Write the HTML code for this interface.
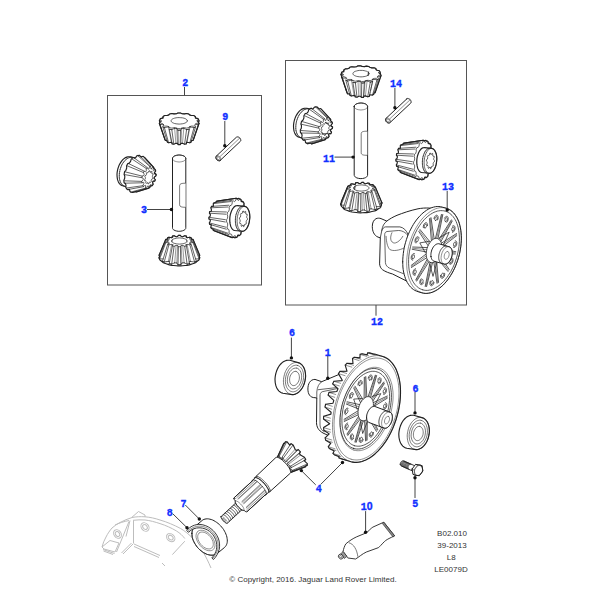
<!DOCTYPE html>
<html><head><meta charset="utf-8">
<style>
html,body{margin:0;padding:0;background:#fff;width:600px;height:600px;overflow:hidden}
svg{display:block}
.lb{font-family:"Liberation Mono",monospace;font-weight:bold;font-size:10px;fill:#1030ff;stroke:#1030ff;stroke-width:0.35px;text-anchor:middle}
.tx{font-family:"Liberation Sans",sans-serif;font-size:8px;fill:#333;text-anchor:middle}
.bx{fill:none;stroke:#555;stroke-width:1}
.ld{stroke:#444;stroke-width:1;fill:none}
.dt{fill:#111}
.g{fill:none;stroke:#bdbdbd;stroke-width:1;stroke-linejoin:round}
.f{fill:#fff}
.l{fill:none;stroke:#222;stroke-linecap:round;stroke-linejoin:round}
</style></head><body>
<svg width="600" height="600" viewBox="0 0 600 600">
<rect class="bx" x="107.5" y="95.5" width="154" height="189.5"/>
<rect class="bx" x="285.5" y="60.5" width="181" height="244.5"/>
<path class="f" d="M159.4 123.5L165 139.8L165.4 140.5L166.9 140.6L167.4 142.2L168.6 142.8L171.4 142.3L171.8 142.4L172.1 143.9L173.8 144.2L175.9 143.3L177.4 143.4L178.2 144.6L180.2 144.6L181 143.4L182.5 143.3L184.6 144.2L186.3 143.9L186.6 142.4L187 142.3L189.8 142.8L191 142.2L191.5 140.6L193 140.5L193.4 139.8L199 123.5L198.6 122.1L199 120.9L198.6 119.6L198 118.6L195.9 118.1L195.6 117.9L195.6 117.6L195.3 116.4L193.7 115.5L191.3 115.5L189.5 114.9L188.9 114L186.5 113.5L184.4 113.9L182 113.7L180.5 113L177.9 113L176.4 113.7L174 113.9L171.9 113.5L169.5 114L168.9 114.9L167.1 115.5L164.7 115.5L163.1 116.4L162.8 117.6L162.8 117.9L162.5 118.1L160.4 118.6L160 119.3L159.8 119.6L159.4 120.9L159.8 122.1L159.4 123.5Z"/>
<path class="l" stroke-width="0.7" d="M197.4 121.3L199 120.9M195.3 117.8L195.6 117.6M162.8 117.6L163.1 117.8M159.4 120.9L161.3 121.4M159.4 123.5L159.6 123.8M159.6 123.8L159.8 124.2M159.8 124.2L160 124.5M160 124.5L163.6 124.6M162.8 126.8L163.3 127M163.3 127L163.8 127.3M163.8 127.3L164.4 127.6M164.4 127.6L168.4 126.9M168.4 126.9L169.3 127.2M169.3 129.2L170.1 129.3M170.1 129.3L170.9 129.5M170.9 129.5L171.8 129.6M171.8 129.6L174.6 128.3M174.6 128.3L176.7 128.5M176.7 128.5L177.9 130.2M177.9 130.2L178.8 130.2M178.8 130.2L179.6 130.2M179.6 130.2L180.5 130.2M180.5 130.2L181.7 128.5M181.7 128.5L183.8 128.3M183.8 128.3L186.6 129.6M186.6 129.6L187.5 129.5M187.5 129.5L188.3 129.3M188.3 129.3L189.1 129.2M189.2 127.2L190 126.9M190 126.9L190.6 127M190.9 127.1L194 127.6M194 127.6L194.6 127.3M194.6 127.3L195.1 127M195.1 127L195.6 126.8M195.8 124.5L198.4 124.5M198.4 124.5L198.6 124.2M198.6 124.2L198.8 123.8M198.8 123.8L199 123.5M199 120.9L198.5 122.3M195.6 117.6L195.5 118M162.8 117.6L162.9 118M159.4 120.9L159.9 122.3M159.4 123.5L165 139.8M160 124.5L165.4 140.5M162.8 126.8L167.4 142.2M164.4 127.6L168.6 142.8M169.3 129.2L172.1 143.9M171.8 129.6L173.8 144.2M177.9 130.2L178.2 144.6M180.5 130.2L180.2 144.6M186.6 129.6L184.6 144.2M189.1 129.2L186.3 143.9M194 127.6L189.8 142.8M195.6 126.8L191 142.2M198.4 124.5L193 140.5M199 123.5L193.4 139.8M197.2 120.3L198.6 119.6L198 118.6L195.9 118.1L194.9 117.3L195.3 116.4L193.7 115.5L191.3 115.5L189.5 114.9L188.9 114L186.5 113.5L184.4 113.9L182 113.7L180.5 113L177.9 113L176.4 113.7L174 113.9L171.9 113.5L170.3 113.8L169.5 114L168.9 114.9L168.4 115.1L167.1 115.5L164.7 115.5L164.2 115.8L163.1 116.4L163.5 117.3L162.5 118.1L160.4 118.6L160.2 118.9L159.8 119.6L161.2 120.3L161.2 121.3L159.8 122.1L160.4 123.1L162.5 123.5L163.1 124L163.5 124.4L163.1 125.3L164.7 126.1L167.1 126.1L168.9 126.7L169.5 127.6L171.9 128.1L174 127.7L176.4 127.9L177.9 128.6L180.5 128.6L182 127.9L184.4 127.7L186.5 128.1L188.1 127.8L188.9 127.6L189.5 126.7L189.6 126.7L191.3 126.1L193.7 126.1L194.2 125.8L195.3 125.3L194.9 124.4L195 124.3L195.9 123.5L198 123.1L198.4 122.4L198.6 122.1L197.2 121.3L197.2 120.3M187.3 120.8L187.2 120.4L187.1 120.1L186.7 119.6L185.8 118.9L184.9 118.5L184 118.2L182.3 117.8L180.8 117.7L179.2 117.6L177.8 117.6L176.1 117.8L174.4 118.2L173.5 118.5L172.6 118.9L171.7 119.6L171.3 120.1L171.2 120.4L171.1 120.8L171.2 121.2L171.3 121.5L171.7 122.1L172.6 122.7L173.5 123.1L174.6 123.5L176.1 123.8L178 124L179.2 124.1L180.4 124L182.3 123.8L183.8 123.5L184.9 123.1L185.9 122.6L186.7 122.1L187.1 121.5L187.2 121.2L187.3 120.8"/>
<path class="l" stroke-width="0.45" d="M168.4 126.9L171.4 142.3M174.6 128.3L175.9 143.3M176.7 128.5L177.4 143.4M181.7 128.5L181 143.4M183.8 128.3L182.5 143.3M190 126.9L187 142.3"/>
<path class="l" stroke-width="1.15" d="M159.4 123.5L165 139.8L165.4 140.5L166.9 140.6L167.4 142.2L168.6 142.8L171.4 142.3L171.8 142.4L172.1 143.9L173.8 144.2L175.9 143.3L177.4 143.4L178.2 144.6L180.2 144.6L181 143.4L182.5 143.3L184.6 144.2L186.3 143.9L186.6 142.4L187 142.3L189.8 142.8L191 142.2L191.5 140.6L193 140.5L193.4 139.8L199 123.5L198.6 122.1L199 120.9L198.6 119.6L198 118.6L195.9 118.1L195.6 117.9L195.6 117.6L195.3 116.4L193.7 115.5L191.3 115.5L189.5 114.9L188.9 114L186.5 113.5L184.4 113.9L182 113.7L180.5 113L177.9 113L176.4 113.7L174 113.9L171.9 113.5L169.5 114L168.9 114.9L167.1 115.5L164.7 115.5L163.1 116.4L162.8 117.6L162.8 117.9L162.5 118.1L160.4 118.6L160 119.3L159.8 119.6L159.4 120.9L159.8 122.1L159.4 123.5Z"/>
<path class="f" d="M159.1 255.2L159.5 256.7L159.1 257.8L159.5 259.1L159.6 259.5L160.1 260.2L161 260.8L162.2 261.8L162.6 261.6L162.8 262.5L164.5 263.3L166.1 263.7L168.1 264.4L169.4 264.9L171.9 265.4L173.7 265.5L176.3 265.7L178 265.9L180.8 265.9L182.5 265.7L185.1 265.5L186.9 265.4L189.4 264.9L190.7 264.4L192.7 263.7L194.3 263.3L196 262.5L196.2 261.6L196.6 261.8L197.8 260.8L198.7 260.2L199.3 259.1L199.7 257.8L199.3 256.7L199.7 255.2L193.4 240.1L193 239.4L191.7 239.3L191.1 237.8L189.9 237.2L187.1 237.7L186.8 237.6L186.4 236.1L184.7 235.7L182.7 236.7L181.2 236.5L180.4 235.3L178.4 235.3L177.6 236.5L176.1 236.7L174.1 235.7L172.4 236.1L172 237.6L171.7 237.7L168.9 237.2L167.7 237.8L167.1 239.3L165.8 239.4L165.4 240.1L159.1 255.2Z"/>
<path class="l" stroke-width="0.7" d="M160 255.4L159.1 255.2M199.7 255.2L198.8 255.4M199.7 257.8L199.6 258.2M199.6 258.2L199.4 258.5M199.4 258.5L199.1 258.9M199.1 258.9L195.7 258.9M196.3 261.2L195.8 261.5M195.8 261.5L195.2 261.8M195.2 261.8L194.6 262.1M194.6 262.1L190.5 261.4M190.5 261.4L189.1 261.8M189.3 263.1L189.6 263.7M189.6 263.7L188.8 263.8M188.8 263.8L187.9 264M187.9 264L187.1 264.1M187.1 264.1L184.1 262.8M184.1 262.8L182 263M182 263L181.4 263.8M181.2 264.1L180.8 264.7M180.8 264.7L179.9 264.7M179.9 264.7L178.9 264.7M178.9 264.7L178 264.7M178 264.7L176.8 263M176.8 263L174.7 262.8M174.7 262.8L171.7 264.1M171.7 264.1L170.9 264M170.9 264L170 263.8M170 263.8L169.2 263.7M169.5 261.8L168.3 261.4M168.3 261.4L167.1 261.6M166.7 261.6L166.1 261.7M165.8 261.8L164.2 262.1M164.2 262.1L163.6 261.8M163.6 261.8L163 261.5M163 261.5L162.5 261.2M163.1 258.9L159.7 258.9M159.7 258.9L159.4 258.5M159.4 258.5L159.2 258.2M159.2 258.2L159.1 257.8M159.1 255.2L165.4 240.1M167.2 239.3L167.7 237.8M172 237.6L172.4 236.1M186.8 237.6L186.4 236.1M191.6 239.3L191.1 237.8M199.7 255.2L193.4 240.1M199.7 257.8L193.4 241.9M199.1 258.9L193 242.6M196.3 261.2L191.1 244.2M194.6 262.1L189.9 244.8M189.6 263.7L186.4 246M187.1 264.1L184.7 246.3M180.8 264.7L180.4 246.7M178 264.7L178.4 246.7M171.7 264.1L174.1 246.3M169.2 263.7L172.4 246M164.2 262.1L168.9 244.8M162.5 261.2L167.7 244.2M159.7 258.9L165.8 242.6M159.1 257.8L165.4 241.9M168.1 240.7L165.4 240.1L165.8 239.4L168.8 239.3L169.5 238.8L167.7 237.8L168.9 237.2L171.7 237.7L172.9 237.3L172.4 236.1L174.1 235.7L176.1 236.7L176.9 236.6L177.6 236.5L178.4 235.3L180.4 235.3L181.2 236.5L182.7 236.7L184.7 235.7L186.4 236.1L185.9 237.3L187.1 237.7L189.9 237.2L190.3 237.4L191.1 237.8L189.3 238.8L190 239.3L193 239.4L193.4 240.1L190.7 240.7L190.7 241.3L193.4 241.9L193 242.6L190 242.7L189.3 243.3L191.1 244.2L189.9 244.8L187.1 244.4L185.9 244.7L186.4 246L184.7 246.3L182.7 245.4L181.9 245.4L181.2 245.5L180.4 246.7L178.4 246.7L177.6 245.5L176.1 245.4L174.1 246.3L172.4 246L172.9 244.7L172.6 244.6L171.7 244.4L168.9 244.8L167.7 244.2L169.5 243.3L168.8 242.7L165.8 242.6L165.4 241.9L168.1 241.3L168.1 240.7M171.7 241L171.8 240.6L171.9 240.3L172.3 239.8L173.3 239.1L174 238.8L174.7 238.6L176.5 238.2L177.8 238L179.4 237.9L181 238L182.3 238.2L184.1 238.6L184.8 238.8L185.5 239.1L186.5 239.8L186.9 240.3L187 240.6L187.1 241L187 241.4L186.9 241.7L186.5 242.2L185.5 242.9L184.8 243.2L183.9 243.5L182.3 243.8L181 244L179.4 244.1L177.8 244L176.5 243.8L174.9 243.5L174 243.2L173.3 242.9L172.3 242.2L171.9 241.7L171.8 241.4L171.7 241"/>
<path class="l" stroke-width="0.45" d="M167.9 241.3L168.1 240.7M169.4 239.1L169.5 238.8M171.9 241.9L172.4 239.6M186.9 242.1L186.4 239.6M190.9 241.3L190.7 240.7M190.3 244L190 242.7M190.5 261.4L187.1 244.4M186 245.3L185.9 244.7M184.1 262.8L182.7 245.4M182 263L181.2 245.5M176.8 263L177.6 245.5M174.7 262.8L176.1 245.4M172.8 245.3L172.9 244.7M168.3 261.4L171.7 244.4M168.5 244L168.8 242.7"/>
<path class="l" stroke-width="1.15" d="M159.1 255.2L159.5 256.7L159.1 257.8L159.5 259.1L159.6 259.5L160.1 260.2L161 260.8L162.2 261.8L162.6 261.6L162.8 262.5L164.5 263.3L166.1 263.7L168.1 264.4L169.4 264.9L171.9 265.4L173.7 265.5L176.3 265.7L178 265.9L180.8 265.9L182.5 265.7L185.1 265.5L186.9 265.4L189.4 264.9L190.7 264.4L192.7 263.7L194.3 263.3L196 262.5L196.2 261.6L196.6 261.8L197.8 260.8L198.7 260.2L199.3 259.1L199.7 257.8L199.3 256.7L199.7 255.2L193.4 240.1L193 239.4L191.7 239.3L191.1 237.8L189.9 237.2L187.1 237.7L186.8 237.6L186.4 236.1L184.7 235.7L182.7 236.7L181.2 236.5L180.4 235.3L178.4 235.3L177.6 236.5L176.1 236.7L174.1 235.7L172.4 236.1L172 237.6L171.7 237.7L168.9 237.2L167.7 237.8L167.1 239.3L165.8 239.4L165.4 240.1L159.1 255.2Z"/>
<path class="f" d="M117.3 178.3L117.6 179.9L118.2 181.4L118.8 182.7L119.6 183.8L120.5 184.7L121.5 185.4L122.7 185.8L132.1 188.3L131 187.9L130 187.3L129 186.3L128.3 185.2L127.6 183.9L127.1 182.5L126.7 180.8L126.5 179.1L126.4 177.2L126.6 175.4L126.8 173.4L127.3 171.5L127.8 169.7L128.6 167.9L129.4 166.2L130.4 164.6L131.4 163.2L132.6 162L133.7 160.9L135 160.1L136.2 159.6L137.5 159.3L138.7 159.2L139.8 159.4L130.4 156.8L129.2 156.7L128 156.7L126.8 157.1L125.5 157.6L124.3 158.4L123.1 159.4L122 160.7L120.9 162.1L120 163.6L119.1 165.3L118.4 167.1L117.8 169L117.4 170.9L117.1 172.8L117 174.7L117.1 176.6L117.3 178.3Z"/>
<path class="l" stroke-width="0.7" d="M124.9 186.4L123.8 186M123.8 186L122.8 185.3M122.8 185.3L121.9 184.4M121.9 184.4L121.1 183.3M121.1 183.3L120.4 182M120.4 182L119.9 180.5M119.9 180.5L119.5 178.9M119.5 178.9L119.3 177.2M119.3 177.2L119.3 175.3M119.3 175.3L119.4 173.4M119.4 173.4L119.7 171.5M119.7 171.5L120.1 169.6M120.1 169.6L120.7 167.7M120.7 167.7L121.4 165.9M121.4 165.9L122.2 164.2M122.2 164.2L123.2 162.7M123.2 162.7L124.3 161.3M124.3 161.3L125.4 160M125.4 160L126.6 159M126.6 159L127.8 158.2M127.8 158.2L129.1 157.7M129.1 157.7L130.3 157.3M130.3 157.3L131.5 157.3M131.5 157.3L132.7 157.4"/>
<path class="l" stroke-width="1.15" d="M117.3 178.3L117.6 179.9L118.2 181.4L118.8 182.7L119.6 183.8L120.5 184.7L121.5 185.4L122.7 185.8L132.1 188.3L131 187.9L130 187.3L129 186.3L128.3 185.2L127.6 183.9L127.1 182.5L126.7 180.8L126.5 179.1L126.4 177.2L126.6 175.4L126.8 173.4L127.3 171.5L127.8 169.7L128.6 167.9L129.4 166.2L130.4 164.6L131.4 163.2L132.6 162L133.7 160.9L135 160.1L136.2 159.6L137.5 159.3L138.7 159.2L139.8 159.4L130.4 156.8L129.2 156.7L128 156.7L126.8 157.1L125.5 157.6L124.3 158.4L123.1 159.4L122 160.7L120.9 162.1L120 163.6L119.1 165.3L118.4 167.1L117.8 169L117.4 170.9L117.1 172.8L117 174.7L117.1 176.6L117.3 178.3Z"/><path class="f" d="M123.8 180.4L124.1 182.8L124.8 183.2L125 183.2L125.4 183.4L126 185.3L125.8 187.5L126.8 189.1L127.6 189.6L129.2 189.4L129.5 189.6L130 191.5L130.8 192.1L131.3 192.3L132.4 192.5L135.7 191.6L136.4 192L148.8 188.1L149.8 187.6L150 186.1L152.2 185.6L153.1 184.4L152.6 182.2L153.2 181.1L154.8 181.2L155.3 179.6L154.1 178.3L154.4 177L156 175.9L156.1 174.3L154.3 173L155.7 170.9L155.5 170.5L155.2 169.6L153.6 167.9L153.7 167.4L144.6 157.5L144.1 157.1L143.2 156.4L142.1 156.5L141.2 157.1L139.5 155.4L137.9 155.6L136.8 155.8L135.7 157.6L134.4 158.1L133.7 157.6L132.8 157.7L131.8 158.6L131.2 159.1L130.6 161.3L129.3 163.1L127.8 163.6L127.4 164.3L126.6 165.8L126.7 168L125.9 170.3L124.6 171.7L124.4 172.6L124.1 174.4L124.8 175.9L124.7 178.3L123.8 180.4Z"/>
<path class="l" stroke-width="0.7" d="M143.2 156.4L152.9 166.8M144.6 157.5L153.7 167.4M153.4 167.8L155.2 169.6M154.3 173L156.1 174.3M150 186.1L152.2 185.6M136.4 192L148.8 188.1M132.4 192.5L146.4 188.4M130.8 192.1L145.4 188.2M127.6 189.6L143.5 186.7M126.5 188L142.9 185.7M124.8 183.2L141.9 182.8M124.5 180.8L141.7 181.4M124.7 174.6L141.8 177.7M125.3 171.9L142.1 176.1M127.4 165.9L143.4 172.5M128.6 163.6L144.1 171.1M132.1 159.1L146.2 168.4M133.7 157.6L147.2 167.5M137.8 155.6L149.6 166.3M139.5 155.4L150.7 166.2M151.5 168.8L152.9 166.8L153.7 167.4L153 170L153.5 170.7L155.2 169.6L155.4 170L155.7 170.9L154.3 173L154.5 174.1L156.1 174.3L156 175.9L154.4 177L154.1 178.3L155.3 179.6L154.8 181.2L153.1 181.1L152.7 181.9L152.6 182.2L153.1 184.4L152.2 185.6L150.9 184.3L150.2 185L149.8 187.6L148.8 188.1L148.3 185.9L147.5 186L146.4 188.4L145.8 188.3L145.4 188.2L145.7 185.5L145.1 185.1L143.5 186.7L142.9 185.7L143.9 183.3L143.6 182.3L141.9 182.8L141.7 181.4L143.2 179.7L143.3 178.6L143.3 178.4L141.8 177.7L142.1 176.1L143.8 175.5L144.2 174.3L143.4 172.5L144.1 171.1L145.6 171.8L146.3 170.9L146.2 168.4L147.2 167.5L148.1 169.3L148.9 168.9L149.6 166.3L150.7 166.2L150.8 168.6L151.5 168.8M150.7 172.1L151.5 171.1L152 171.7L151.7 173.1L152.1 173.9L153 173.8L153.1 174.8L152.4 175.9L152.4 176.4L152.3 177.1L152.9 177.8L152.6 178.9L151.7 179.2L151.2 180.3L151.3 181.6L150.7 182.4L150 181.9L149.2 182.4L148.8 183.8L148.2 183.9L148 184L147.8 182.8L147.1 182.6L146.3 183.5L145.7 182.9L146 181.6L145.6 180.7L144.7 180.8L144.6 180L144.6 179.8L145.3 178.8L145.4 177.5L144.8 176.8L145.1 175.7L146 175.4L146.5 174.3L146.4 173L146.7 172.6L147 172.2L147.7 172.8L148.5 172.2L148.9 170.9L149.7 170.7L149.9 171.9L150.7 172.1"/>
<path class="l" stroke-width="1.15" d="M123.8 180.4L124.1 182.8L124.8 183.2L125 183.2L125.4 183.4L126 185.3L125.8 187.5L126.8 189.1L127.6 189.6L129.2 189.4L129.5 189.6L130 191.5L130.8 192.1L131.3 192.3L132.4 192.5L135.7 191.6L136.4 192L148.8 188.1L149.8 187.6L150 186.1L152.2 185.6L153.1 184.4L152.6 182.2L153.2 181.1L154.8 181.2L155.3 179.6L154.1 178.3L154.4 177L156 175.9L156.1 174.3L154.3 173L155.7 170.9L155.5 170.5L155.2 169.6L153.6 167.9L153.7 167.4L144.6 157.5L144.1 157.1L143.2 156.4L142.1 156.5L141.2 157.1L139.5 155.4L137.9 155.6L136.8 155.8L135.7 157.6L134.4 158.1L133.7 157.6L132.8 157.7L131.8 158.6L131.2 159.1L130.6 161.3L129.3 163.1L127.8 163.6L127.4 164.3L126.6 165.8L126.7 168L125.9 170.3L124.6 171.7L124.4 172.6L124.1 174.4L124.8 175.9L124.7 178.3L123.8 180.4Z"/>
<path class="f" d="M208.9 217.3L208.9 219L210.2 219.5L210.3 220.9L209.3 222.9L209.7 224.4L211.4 224.9L210.8 227.4L211.4 228.5L213.2 229.1L213.2 230.2L214 230.7L232.1 237.6L233.2 237.3L234.8 237.8L236.6 237.4L237 237.2L237.7 235.4L238.7 235.7L239.7 235.4L240.8 234.3L241.1 232.1L241.9 230.8L242.2 230.8L243.1 230.7L243.9 228.8L243.8 226.8L244.4 224.9L245.4 224L245.9 221.8L245.4 220.1L245.6 218L246.5 216.5L246.5 215.7L246.5 214.2L245.6 213.1L245.4 211.1L246 209.1L245.5 207.2L244.7 206.8L244.4 206.8L243.9 205.4L244 203.2L243.2 201.8L242.3 201.4L241.3 201.5L241 199.5L238.9 198.4L237.3 198.7L236.2 198.2L217.1 201.1L216.5 201.3L216.2 201.4L216 202.5L214.1 202.7L213.3 203.6L213.4 206.2L211.6 206.4L211.1 207.3L210.9 207.8L211.5 210L211.1 211.3L209.7 211.5L209.4 213.2L210.4 214.6L210.2 216.1L208.9 217.3Z"/>
<path class="l" stroke-width="0.7" d="M234.8 237.8L233.1 237.2M238.7 235.7L237.6 235.3M242.2 230.8L241.8 230.7M237.7 229.7L232 228.3M244.7 206.8L244.3 206.8M240.5 207L234.2 207.2M242.3 201.4L241.3 201.5M238.9 198.4L237 198.7M236.2 198.2L217.1 201.1M235 198.5L216.2 201.4M232.3 200.3L214.1 202.7M231.2 201.5L213.3 203.6M228.8 205.2L211.6 206.4M228 207L210.9 207.8M226.4 212L209.7 211.5M225.9 214.2L209.4 213.2M225.4 219.7L208.9 217.3M225.3 222L208.9 219M225.9 227.2L209.3 222.9M226.3 229.2L209.7 224.4M227.8 233.2L210.8 227.4M228.7 234.6L211.4 228.5M231 237L213.2 230.2M232.1 237.6L214 230.7M235.2 236L235.8 237.6L237 237.2L237.7 235.3L238.7 234.6L239.7 235.4L240.8 234.3L241.1 232.1L242 230.7L243.1 230.7L243.9 228.8L243.8 226.8L244.4 224.9L245.4 224L245.9 221.8L245.4 220.1L245.6 218L246.5 216.5L246.5 214.2L245.6 213.1L245.4 211.1L246 209.1L245.5 207.2L244.5 206.9L243.9 205.4L244 203.2L243.2 201.8L242.1 202.4L241.2 201.5L241 199.5L239.9 198.9L238.9 200.3L237.9 200.2L237.2 198.7L236.1 199L235.4 200.9L234.3 201.6L233.4 200.8L232.3 201.9L232 204.1L231.1 205.5L230 205.5L229.2 207.4L229.3 209.4L228.7 211.4L227.6 212.2L227.2 214.4L227.7 216.1L227.5 218.2L226.6 219.8L226.6 222L227.5 223.1L227.7 225.1L227.1 227.1L227.5 229.1L228.6 229.3L229.2 230.9L229 233L229.8 234.4L230.9 233.8L231.8 234.7L232.1 236.7L232.8 237.1L233.2 237.3L234.1 235.9L235.2 236M235.2 230.5L236 230.5L236.5 230.4L236.9 230.3L237.7 229.8L238.5 229.2L239.3 228.4L240 227.4L240.7 226.2L241.2 225.1L241.8 223.5L242.4 221.1L242.7 218.8L242.9 217L242.9 215.5L242.8 214L242.6 212.5L242.3 211.2L241.9 209.8L241.4 208.6L240.9 207.8L240.1 206.9L239.4 206.3L239.1 206.1L238.6 205.9L237.8 205.7L237 205.7L236.5 205.8L236.2 205.9L235.4 206.4L234.6 207L234.2 207.4L233.1 208.9L232.4 210L231.8 211.3L231.3 212.7L230.9 214.3L230.5 215.8L230.3 217.5L230.2 219.3L230.2 220.7L230.3 222.3L230.5 223.8L230.7 224.8L231.2 226.4L231.7 227.6L232.2 228.4L232.9 229.3L233.7 229.9L234 230.1L234.4 230.3L235.2 230.5"/>
<path class="l" stroke-width="1.15" d="M208.9 217.3L208.9 219L210.2 219.5L210.3 220.9L209.3 222.9L209.7 224.4L211.4 224.9L210.8 227.4L211.4 228.5L213.2 229.1L213.2 230.2L214 230.7L232.1 237.6L233.2 237.3L234.8 237.8L236.6 237.4L237 237.2L237.7 235.4L238.7 235.7L239.7 235.4L240.8 234.3L241.1 232.1L241.9 230.8L242.2 230.8L243.1 230.7L243.9 228.8L243.8 226.8L244.4 224.9L245.4 224L245.9 221.8L245.4 220.1L245.6 218L246.5 216.5L246.5 215.7L246.5 214.2L245.6 213.1L245.4 211.1L246 209.1L245.5 207.2L244.7 206.8L244.4 206.8L243.9 205.4L244 203.2L243.2 201.8L242.3 201.4L241.3 201.5L241 199.5L238.9 198.4L237.3 198.7L236.2 198.2L217.1 201.1L216.5 201.3L216.2 201.4L216 202.5L214.1 202.7L213.3 203.6L213.4 206.2L211.6 206.4L211.1 207.3L210.9 207.8L211.5 210L211.1 211.3L209.7 211.5L209.4 213.2L210.4 214.6L210.2 216.1L208.9 217.3Z"/><path class="f" d="M230.8 226.4L231.3 227.5L231.9 228.5L232.5 229.3L233.2 229.9L234 230.3L234.8 230.5L242.1 231.3L242.9 231.2L243.8 231L244.6 230.6L245.4 229.9L246.2 229.1L246.9 228.1L247.6 226.9L248.2 225.6L248.7 224.2L249.1 222.7L249.4 221.1L249.6 219.5L249.8 217.9L249.8 216.2L249.7 214.7L249.5 213.2L249.2 211.8L248.7 210.5L248.2 209.4L247.7 208.4L247 207.6L246.3 207L245.5 206.6L244.7 206.4L237.4 205.6L236.6 205.7L235.8 205.9L234.9 206.3L234.1 207L233.4 207.8L232.6 208.8L232 210L231.4 211.3L230.9 212.7L230.4 214.2L230.1 215.8L229.9 217.4L229.8 219L229.8 220.6L229.9 222.2L230.1 223.7L230.4 225.1L230.8 226.4Z"/>
<path class="l" stroke-width="0.7" d="M243 206.2L242.2 206.2M242.2 206.2L241.4 206.5M241.4 206.5L240.5 206.9M240.5 206.9L239.7 207.6M239.7 207.6L239 208.4M239 208.4L238.2 209.4M238.2 209.4L237.6 210.6M237.6 210.6L237 211.9M237 211.9L236.5 213.3M236.5 213.3L236 214.8M236 214.8L235.7 216.4M235.7 216.4L235.5 218M235.5 218L235.4 219.6M235.4 219.6L235.4 221.2M235.4 221.2L235.5 222.8M235.5 222.8L235.7 224.3M235.7 224.3L236 225.7M236 225.7L236.4 227M236.4 227L236.9 228.1M236.9 228.1L237.5 229.1M237.5 229.1L238.1 229.9M238.1 229.9L238.8 230.5M238.8 230.5L239.6 230.9M239.6 230.9L240.4 231.1M242.1 231.3L242.9 231.2L243.4 231.1L243.8 231L244.6 230.6L245.4 229.9L246.2 229.1L246.9 228.1L247.6 226.9L248 225.9L248.7 224.2L249.3 221.8L249.6 219.5L249.8 217.9L249.8 216.2L249.7 214.7L249.5 213.2L249.2 212L248.7 210.5L248.2 209.4L247.8 208.6L247 207.6L246.3 207L245.5 206.6L244.7 206.4L243.9 206.4L243.4 206.6L243.1 206.7L242.3 207.1L241.2 208L240.7 208.6L240 209.6L239 211.4L238.2 213.5L237.8 215L237.5 216.4L237.2 218.2L237.1 220L237.1 221.4L237.2 223L237.5 224.8L237.7 225.9L238.1 227.2L238.6 228.3L239.1 229.1L239.8 230.1L240.6 230.7L240.9 230.8L241.3 231.1L242.1 231.3M243.1 225.4L243.5 226.7L244.2 226.3L244.4 224.7L245.1 223.9L245.9 224.4L246.4 223.3L246.1 221.8L246.3 221.2L246.5 220.5L247.3 219.9L247.5 218.6L246.8 217.9L246.7 216.4L247.3 215.1L247 213.9L246.1 214.3L245.6 213.3L245.8 211.7L245.3 211.3L245.1 211.2L244.5 212.4L243.7 212.3L243.3 211L242.6 211.3L242.4 213L241.7 213.8L241 213.3L240.5 214.2L240.4 214.4L240.7 215.8L240.4 217.2L239.5 217.7L239.4 219.1L240.1 219.8L240.2 221.2L239.6 222.6L239.7 223.1L239.9 223.7L240.7 223.4L241.2 224.3L241.1 226L241.7 226.5L242.4 225.3L243.1 225.4"/>
<path class="l" stroke-width="1.15" d="M230.8 226.4L231.3 227.5L231.9 228.5L232.5 229.3L233.2 229.9L234 230.3L234.8 230.5L242.1 231.3L242.9 231.2L243.8 231L244.6 230.6L245.4 229.9L246.2 229.1L246.9 228.1L247.6 226.9L248.2 225.6L248.7 224.2L249.1 222.7L249.4 221.1L249.6 219.5L249.8 217.9L249.8 216.2L249.7 214.7L249.5 213.2L249.2 211.8L248.7 210.5L248.2 209.4L247.7 208.4L247 207.6L246.3 207L245.5 206.6L244.7 206.4L237.4 205.6L236.6 205.7L235.8 205.9L234.9 206.3L234.1 207L233.4 207.8L232.6 208.8L232 210L231.4 211.3L230.9 212.7L230.4 214.2L230.1 215.8L229.9 217.4L229.8 219L229.8 220.6L229.9 222.2L230.1 223.7L230.4 225.1L230.8 226.4Z"/>
<path class="f" d="M341 74.5L341.7 76.7L341.7 77L347.1 93.1L347.5 93.6L347.7 93.9L349.6 93.8L350 95.4L351.4 96L354.1 95.4L355 95.6L355.2 96.9L357 97.2L358.8 96.2L360.3 96.3L361.5 97.4L363.4 97.4L364 96.1L365.4 95.9L367.7 96.8L369.3 96.4L369.7 94.8L372.5 95.1L373.6 94.5L374.1 92.9L375.1 92.8L380.8 76.2L381 75.5L380.6 74.1L380.1 73.8L380.3 73L380 71.6L379.7 71.3L379.1 70.6L377 70.3L376.2 69.8L375.9 68.5L374.1 67.8L371.8 67.9L369.7 67.3L368.9 66.5L366.4 66.1L364.4 66.6L362 66.4L360.4 65.8L357.7 65.9L356.4 66.7L354.1 67L351.9 66.7L349.7 67.2L349.3 68.1L347.6 68.8L345.3 68.9L343.9 69.8L343.5 71.1L343.6 71.6L341.8 72.1L341.5 72.8L341 74.5Z"/>
<path class="l" stroke-width="0.7" d="M379.2 73.3L380.3 73M343.5 71.1L344 71.4M341.1 74.2L341 74.5M341 74.5L343.3 74.9M341.7 77L341.9 77.4M341.9 77.4L342.2 77.7M342.2 77.7L342.5 78.1M342.5 78.1L346.2 78M345.8 80.2L346.4 80.5M346.4 80.5L347 80.7M347 80.7L347.7 81M347.7 81L351.4 80.1M351.4 80.1L353.2 80.6M352.9 82.3L353.7 82.5M353.7 82.5L354.6 82.6M354.6 82.6L355.4 82.7M355.4 82.7L358 81.3M358 81.3L360.1 81.4M360.1 81.4L361.7 83M361.7 83L362.5 83M362.5 83L363.4 82.9M363.4 82.9L364.3 82.9M364.3 82.9L365.1 81.2M365.1 81.2L367.1 80.9M367.1 80.9L370.3 82.1M370.3 82.1L371 81.9M371 81.9L371.8 81.7M371.8 81.7L372.6 81.5M372.6 79.4L372.9 79.3M372.9 79.3L373.9 79.4M374.3 79.4L377 79.8M377 79.8L377.6 79.5M377.6 79.5L378 79.2M378 79.2L378.5 78.9M377.7 76.7L380.6 76.5M380.6 76.5L380.8 76.2M380.8 76.2L380.9 75.8M380.9 75.8L381 75.5M380.3 73L380 73.9M368.6 72L368.1 75.6M343.5 71.1L343.7 71.7M341 74.5L341.7 76.6M345.9 89.1L346.6 91.4M341.7 77L347.1 93.1M342.5 78.1L347.7 93.9M345.8 80.2L350 95.4M347.7 81L351.4 96M352.9 82.3L355.2 96.9M355.4 82.7L357 97.2M361.7 83L361.5 97.4M364.3 82.9L363.4 97.4M370.3 82.1L367.7 96.8M372.6 81.5L369.3 96.4M377 79.8L372.5 95.1M378.5 78.9L373.6 94.5M380.6 76.5L375.1 92.8M378.7 72.4L380 71.6L379.1 70.6L377 70.3L375.7 69.5L375.9 68.5L374.1 67.8L371.8 67.9L369.7 67.3L368.9 66.5L367.9 66.3L366.4 66.1L364.4 66.6L362 66.4L360.4 65.8L357.7 65.9L356.4 66.7L354.1 67L351.9 66.7L349.7 67.2L349.3 68.1L347.6 68.8L345.3 68.9L343.9 69.8L344.5 70.7L343.8 71.5L343.7 71.6L341.8 72.1L341.4 73.2L343 73.9L343.3 74.8L342 75.6L342.6 76.3L342.9 76.6L345 77L346.3 77.8L346.1 78.7L347 79.1L347.9 79.5L350.2 79.4L352.3 79.9L353.1 80.8L353.9 80.9L355.6 81.2L357.6 80.7L360 80.8L361.6 81.5L364.3 81.4L365.6 80.6L367.9 80.3L370.1 80.6L372.3 80L372.7 79.1L374.4 78.4L376.7 78.3L378.1 77.4L377.5 76.5L378.3 75.6L380.2 75.1L380.4 74.8L380.6 74.1L379 73.4L378.7 72.4M369.1 73.6L369 73.2L368.9 72.9L368.5 72.4L367.4 71.7L366.7 71.3L365.6 71L364.1 70.6L362.4 70.4L361 70.4L359.6 70.4L357.9 70.6L356.4 71L355.3 71.3L354.1 71.9L353.5 72.4L353.1 72.9L353 73.2L352.9 73.6L353 74L353.1 74.3L353.5 74.9L354.6 75.6L355.3 75.9L356.4 76.3L357.9 76.6L359.6 76.8L361 76.9L362.4 76.8L364.1 76.6L365.6 76.3L366.7 75.9L367.9 75.3L368.5 74.9L368.9 74.3L369 74L369.1 73.6"/>
<path class="l" stroke-width="0.45" d="M368.4 72L368 75.7M351.4 80.1L354.1 95.4M358 81.3L358.8 96.2M360.1 81.4L360.3 96.3M365.1 81.2L363.9 96.1M367.1 80.9L365.4 95.9M372.9 79.3L372.3 82.4M372.2 82.8L371.8 84.7M371.7 85.1L371.3 87M371.2 87.4L370.8 89.3M370.7 89.7L370.5 90.7M370 92.6L370 93"/>
<path class="l" stroke-width="1.15" d="M341 74.5L341.7 76.7L341.7 77L347.1 93.1L347.5 93.6L347.7 93.9L349.6 93.8L350 95.4L351.4 96L354.1 95.4L355 95.6L355.2 96.9L357 97.2L358.8 96.2L360.3 96.3L361.5 97.4L363.4 97.4L364 96.1L365.4 95.9L367.7 96.8L369.3 96.4L369.7 94.8L372.5 95.1L373.6 94.5L374.1 92.9L375.1 92.8L380.8 76.2L381 75.5L380.6 74.1L380.1 73.8L380.3 73L380 71.6L379.7 71.3L379.1 70.6L377 70.3L376.2 69.8L375.9 68.5L374.1 67.8L371.8 67.9L369.7 67.3L368.9 66.5L366.4 66.1L364.4 66.6L362 66.4L360.4 65.8L357.7 65.9L356.4 66.7L354.1 67L351.9 66.7L349.7 67.2L349.3 68.1L347.6 68.8L345.3 68.9L343.9 69.8L343.5 71.1L343.6 71.6L341.8 72.1L341.5 72.8L341 74.5Z"/>
<path class="f" d="M293.8 129.8L294.1 131.4L294.7 132.9L295.3 134.2L296.1 135.3L297 136.2L298 136.9L299.2 137.3L308.6 139.8L307.5 139.4L306.5 138.8L305.5 137.8L304.8 136.7L304.1 135.4L303.6 134L303.2 132.3L303 130.6L302.9 128.7L303.1 126.9L303.3 124.9L303.8 123L304.3 121.2L305.1 119.4L305.9 117.7L306.9 116.1L307.9 114.7L309.1 113.5L310.2 112.4L311.5 111.6L312.7 111.1L314 110.8L315.2 110.7L316.3 110.9L306.9 108.3L305.7 108.2L304.5 108.2L303.3 108.6L302 109.1L300.8 109.9L299.6 110.9L298.5 112.2L297.4 113.6L296.5 115.1L295.6 116.8L294.9 118.6L294.3 120.5L293.9 122.4L293.6 124.3L293.5 126.2L293.6 128.1L293.8 129.8Z"/>
<path class="l" stroke-width="0.7" d="M301.4 137.9L300.3 137.5M300.3 137.5L299.3 136.8M299.3 136.8L298.4 135.9M298.4 135.9L297.6 134.8M297.6 134.8L296.9 133.5M296.9 133.5L296.4 132M296.4 132L296 130.4M296 130.4L295.8 128.7M295.8 128.7L295.8 126.8M295.8 126.8L295.9 124.9M295.9 124.9L296.2 123M296.2 123L296.6 121.1M296.6 121.1L297.2 119.2M297.2 119.2L297.9 117.4M297.9 117.4L298.7 115.7M298.7 115.7L299.7 114.2M299.7 114.2L300.8 112.8M300.8 112.8L301.9 111.5M301.9 111.5L303.1 110.5M303.1 110.5L304.3 109.7M304.3 109.7L305.6 109.2M305.6 109.2L306.8 108.8M306.8 108.8L308 108.8M308 108.8L309.2 108.9"/>
<path class="l" stroke-width="1.15" d="M293.8 129.8L294.1 131.4L294.7 132.9L295.3 134.2L296.1 135.3L297 136.2L298 136.9L299.2 137.3L308.6 139.8L307.5 139.4L306.5 138.8L305.5 137.8L304.8 136.7L304.1 135.4L303.6 134L303.2 132.3L303 130.6L302.9 128.7L303.1 126.9L303.3 124.9L303.8 123L304.3 121.2L305.1 119.4L305.9 117.7L306.9 116.1L307.9 114.7L309.1 113.5L310.2 112.4L311.5 111.6L312.7 111.1L314 110.8L315.2 110.7L316.3 110.9L306.9 108.3L305.7 108.2L304.5 108.2L303.3 108.6L302 109.1L300.8 109.9L299.6 110.9L298.5 112.2L297.4 113.6L296.5 115.1L295.6 116.8L294.9 118.6L294.3 120.5L293.9 122.4L293.6 124.3L293.5 126.2L293.6 128.1L293.8 129.8Z"/><path class="f" d="M300.3 130.1L300.4 132.6L301.6 133.5L302.1 135.5L301.7 137.7L302.6 139.5L303.3 140.1L304.6 139.9L305.2 140.5L305.5 142.5L306.3 143.1L306.8 143.3L307.8 143.8L310.6 143L310.8 143.3L311.7 143.9L325.3 139.6L325.6 139.5L325.8 138.3L328 137.8L329 136.7L328.6 134.4L329.1 133.7L330.8 133.7L331.5 132.2L330.4 130.6L330.7 129.4L332.4 128.5L332.6 126.9L331 125.9L330.9 125.3L332.4 123.3L332.3 122.9L332 122L330.4 120.4L330.7 119.4L321.5 109.4L320.7 108.6L319.6 108.7L319.1 108.9L317.1 107L316 106.9L314.5 107.1L313.2 108.7L312.3 109L311.4 108.3L310.5 108.4L309.4 109.2L308.8 109.6L308.1 111.8L306.7 113.3L305.2 113.6L304.8 114.3L303.9 115.7L303.9 117.9L302.9 120.2L301.5 121.4L301.3 122.3L300.9 124L301.5 125.8L301.3 128.2L300.3 130.1Z"/>
<path class="l" stroke-width="0.7" d="M320.7 108.6L330 118.7M330.3 120.3L332 122M325.4 122.5L328.4 124.3M331.1 125.9L332.6 126.9M322.1 133.6L326.3 133.7M326.7 133.7L327.7 133.7M329.1 133.7L330.8 133.7M325.9 138.3L328 137.8M311.7 143.9L324.6 139.8M307.8 143.8L322.2 139.8M306.3 143.1L321.3 139.4M303.3 140.1L319.6 137.6M302.4 138.2L319 136.5M301.1 133L318.2 133.3M300.9 130.5L318.1 131.8M301.6 124.3L318.5 128.1M302.3 121.6L318.9 126.5M304.7 115.8L320.4 123M306 113.6L321.2 121.7M309.7 109.5L323.4 119.2M311.4 108.3L324.4 118.5M315.5 106.9L326.8 117.7M317.1 107L327.9 117.7M328.5 120.6L330 118.7L330.7 119.4L329.9 122L330.3 122.8L332 122L332.2 122.4L332.4 123.3L330.9 125.3L331 126.5L332.6 126.9L332.4 128.5L330.7 129.4L330.4 130.6L331.5 132.2L330.8 133.7L329.3 133.4L328.6 134.4L329 136.7L328 137.8L326.9 136.3L326.1 136.8L325.6 139.5L324.6 139.8L324.2 137.5L323.4 137.5L322.2 139.8L321.3 139.4L321.8 136.7L321.7 136.6L321.2 136.1L319.6 137.6L319 136.5L320.2 134.1L319.9 133.1L318.2 133.3L318.1 131.8L319.7 130.3L319.8 130.2L319.9 129.1L318.5 128.1L318.9 126.5L320.6 126.2L321.1 125L320.4 123L321.2 121.7L322.6 122.6L323.2 121.9L323.3 121.8L323.4 119.2L324.4 118.5L325.2 120.5L326 120.2L326.8 117.7L327.9 117.7L327.8 120.3L328.5 120.6M327.2 123.6L328 122.6L328.5 123.2L328.2 124.6L328.6 125.4L329.5 125.3L329.6 126.3L328.9 127.4L328.9 127.9L328.8 128.6L329.4 129.3L329.1 130.4L328.2 130.7L327.7 131.8L327.8 133.1L327.2 133.9L326.5 133.4L325.7 133.9L325.3 135.3L324.5 135.5L324.3 134.3L324.1 134.2L323.6 134.1L322.8 135L322.2 134.4L322.5 133.1L322.1 132.2L321.2 132.3L321.1 131.6L321.1 131.3L321.8 130.3L321.9 129L321.3 128.3L321.6 127.2L322.5 126.9L323 125.8L322.9 124.5L323.4 123.8L323.5 123.7L324.2 124.3L325 123.7L325.4 122.4L326.2 122.2L326.4 123.4L327.2 123.6"/>
<path class="l" stroke-width="1.15" d="M300.3 130.1L300.4 132.6L301.6 133.5L302.1 135.5L301.7 137.7L302.6 139.5L303.3 140.1L304.6 139.9L305.2 140.5L305.5 142.5L306.3 143.1L306.8 143.3L307.8 143.8L310.6 143L310.8 143.3L311.7 143.9L325.3 139.6L325.6 139.5L325.8 138.3L328 137.8L329 136.7L328.6 134.4L329.1 133.7L330.8 133.7L331.5 132.2L330.4 130.6L330.7 129.4L332.4 128.5L332.6 126.9L331 125.9L330.9 125.3L332.4 123.3L332.3 122.9L332 122L330.4 120.4L330.7 119.4L321.5 109.4L320.7 108.6L319.6 108.7L319.1 108.9L317.1 107L316 106.9L314.5 107.1L313.2 108.7L312.3 109L311.4 108.3L310.5 108.4L309.4 109.2L308.8 109.6L308.1 111.8L306.7 113.3L305.2 113.6L304.8 114.3L303.9 115.7L303.9 117.9L302.9 120.2L301.5 121.4L301.3 122.3L300.9 124L301.5 125.8L301.3 128.2L300.3 130.1Z"/>
<path class="f" d="M340.7 204L341.2 205.7L341.5 206.4L342.3 207.1L343.2 208.1L343.4 208L343.6 208.8L345.1 209.7L346.6 210.2L348.5 210.9L349.6 211.5L352 212L353.8 212.2L356.3 212.5L357.9 212.8L360.6 212.9L362.4 212.8L365.1 212.6L366.9 212.6L369.5 212.3L370.9 211.8L373.1 211.2L374.8 210.9L376.7 210.1L377.4 209.4L378.8 208.5L380 208L380.6 207.3L380.8 206.9L381.2 205.6L381.1 205.1L381.5 204.4L381.9 203L381.7 202.3L375.3 186.9L374.4 186.9L373.7 185.3L372.7 184.6L370 184.9L369.5 183.4L369 183.2L367.9 183L365.6 183.8L364.2 183.6L363.7 182.4L361.8 182.3L360.6 183.5L359.1 183.5L357.4 182.5L355.6 182.8L355.3 184.1L354.5 184.4L351.8 183.8L350.5 184.3L349.9 185.9L348.2 185.8L347.6 186.6L341.4 201.4L341.5 202L340.7 204Z"/>
<path class="l" stroke-width="0.7" d="M341.7 201.5L341.4 201.4M381.9 203L380.1 203.3M381.2 205.6L381 206M381 206L380.7 206.3M380.7 206.3L380.3 206.6M380.3 206.6L376.3 206.6M377 208.8L376.4 209.1M376.4 209.1L375.7 209.4M375.7 209.4L375 209.6M375 209.6L371.1 208.8M371.1 208.8L369.3 209.3M369.6 211L368.8 211.2M368.8 211.2L367.9 211.3M367.9 211.3L367 211.4M367 211.4L364.4 210M364.4 210L362.2 210.1M362.2 210.1L360.6 211.7M360.6 211.7L359.7 211.7M359.7 211.7L358.8 211.7M358.8 211.7L357.9 211.6M357.9 211.6L357.1 209.9M357.1 209.9L355 209.6M355 209.6L351.8 210.8M351.8 210.8L351 210.6M351 210.6L350.2 210.4M350.2 210.4L349.4 210.2M349.9 208.2L349 207.9M349 207.9L344.8 208.4M344.8 208.4L344.2 208.1M344.2 208.1L343.7 207.8M343.7 207.8L343.3 207.5M344.1 205.2L341.1 205.1M341.1 205.1L340.9 204.7M340.9 204.7L340.8 204.3M341.4 201.4L347.6 186.6M350 185.8L350.5 184.3M354.3 189.4L354.9 186.1M355.3 184.2L355.6 182.8M369.9 184.9L369.5 183.4M374.4 186.9L373.7 185.3M381.7 202.3L381.8 202.7M381.9 203L375.5 187.7M381.8 202.7L381.9 203M381.2 205.6L375 189.5M380.3 206.6L374.4 190.2M377 208.8L372.1 191.7M375 209.6L370.8 192.2M369.6 211L367 193.2M367 211.4L365.2 193.5M360.6 211.7L360.8 193.7M357.9 211.6L358.9 193.6M351.8 210.8L354.7 193.1M349.4 210.2L353.1 192.7M344.8 208.4L349.9 191.4M343.3 207.5L348.9 190.8M341.1 205.1L347.3 189.1M340.7 204L347.1 188.3M340.8 204.3L340.7 204M350.1 187.3L347.6 186.6L348.2 185.8L351.2 185.9L351.5 185.7L352 185.4L350.5 184.3L351.8 183.8L354.5 184.4L355.8 184L355.6 182.8L357.4 182.5L359.1 183.5L360.7 183.5L361.8 182.3L363.7 182.4L364.2 183.6L364.4 183.6L365.6 183.8L367.9 183L369.5 183.4L368.7 184.5L369.8 185L372.7 184.6L373.7 185.3L371.7 186.2L372 186.5L372.2 186.7L375.3 186.9L375.5 187.7L372.7 188.2L372.5 188.8L375 189.5L374.4 190.2L371.4 190.1L370.6 190.6L372.1 191.7L371.5 192L370.8 192.2L368.1 191.7L366.8 192L367 193.2L365.2 193.5L363.5 192.5L361.9 192.6L360.8 193.7L358.9 193.6L358.4 192.4L357.3 192.3L357 192.2L354.7 193.1L353.1 192.7L353.9 191.5L352.8 191L349.9 191.4L349.5 191.2L348.9 190.8L350.9 189.8L350.4 189.3L347.3 189.1L347.1 188.3L349.9 187.9L350.1 187.3M353.6 188L353.7 187.6L353.8 187.3L354.2 186.8L355.2 186.1L355.9 185.8L357.3 185.4L358.4 185.2L359.7 185L361.3 184.9L362.9 185L364.2 185.2L365.3 185.4L366.7 185.8L367.4 186.1L368.4 186.8L368.8 187.3L368.9 187.6L369 188L368.9 188.4L368.8 188.7L368.4 189.2L367.4 189.9L366.7 190.2L365.1 190.7L364.2 190.8L362.9 191L361.3 191.1L359.7 191L358.4 190.8L357.1 190.6L355.9 190.2L355.2 189.9L354.2 189.2L353.8 188.7L353.7 188.4L353.6 188"/>
<path class="l" stroke-width="0.45" d="M349.9 187.8L350.1 187.3M354.8 189.7L355.5 185.8M371.9 186.7L371.7 186.2M372.9 188.9L372.7 188.2M371.7 191.5L371.4 190.1M371.1 208.8L368.1 191.7M369.1 208.3L369.1 207.9M369 207.1L368.9 206.7M368.8 205.9L368.8 205.5M368.7 204.9L368.6 204.6M368.5 203.8L368.4 203.4M368.3 202.6L368.3 202.2M368.2 201.6L368.1 201M368 200.4L367.9 199.8M367.9 199.3L367.8 198.7M367.7 198.3L367.6 197.5M367.5 197.1L367.4 196.3M367.4 195.9L366.8 192M364.4 210L363.5 192.5M362.2 210.1L361.9 192.6M357.1 209.9L358.4 192.4M355 209.6L357 192.2M353.8 192.1L353.9 191.5M349 207.9L352.8 191M350.1 190.2L350.4 189.3"/>
<path class="l" stroke-width="1.15" d="M340.7 204L341.2 205.7L341.5 206.4L342.3 207.1L343.2 208.1L343.4 208L343.6 208.8L345.1 209.7L346.6 210.2L348.5 210.9L349.6 211.5L352 212L353.8 212.2L356.3 212.5L357.9 212.8L360.6 212.9L362.4 212.8L365.1 212.6L366.9 212.6L369.5 212.3L370.9 211.8L373.1 211.2L374.8 210.9L376.7 210.1L377.4 209.4L378.8 208.5L380 208L380.6 207.3L380.8 206.9L381.2 205.6L381.1 205.1L381.5 204.4L381.9 203L381.7 202.3L375.3 186.9L374.4 186.9L373.7 185.3L372.7 184.6L370 184.9L369.5 183.4L369 183.2L367.9 183L365.6 183.8L364.2 183.6L363.7 182.4L361.8 182.3L360.6 183.5L359.1 183.5L357.4 182.5L355.6 182.8L355.3 184.1L354.5 184.4L351.8 183.8L350.5 184.3L349.9 185.9L348.2 185.8L347.6 186.6L341.4 201.4L341.5 202L340.7 204Z"/>
<path class="f" d="M395.9 159.3L395.9 161L397.2 161.5L397.3 162.9L396.3 164.9L396.7 166.4L398.4 166.9L397.8 169.4L398.4 170.5L400.2 171.1L400.2 172.2L401 172.7L419.1 179.6L420.2 179.3L421.8 179.8L423.6 179.4L424 179.2L424.7 177.4L425.7 177.7L426.7 177.4L427.8 176.3L428.1 174.1L428.9 172.8L429.2 172.8L430.1 172.7L430.9 170.8L430.8 168.8L431.4 166.9L432.4 166L432.9 163.8L432.4 162.1L432.6 160L433.5 158.5L433.5 157.7L433.5 156.2L432.6 155.1L432.4 153.1L433 151.1L432.5 149.2L431.7 148.8L431.4 148.8L430.9 147.4L431 145.2L430.2 143.8L429.3 143.4L428.3 143.5L428 141.5L425.9 140.4L424.3 140.7L423.2 140.2L404.1 143.1L403.5 143.3L403.2 143.4L403 144.5L401.1 144.7L400.3 145.6L400.4 148.2L398.6 148.4L398.1 149.3L397.9 149.8L398.5 152L398.1 153.3L396.7 153.5L396.4 155.2L397.4 156.6L397.2 158.1L395.9 159.3Z"/>
<path class="l" stroke-width="0.7" d="M421.8 179.8L420.1 179.2M425.7 177.7L424.6 177.3M429.2 172.8L428.8 172.7M424.7 171.7L419 170.3M431.7 148.8L431.3 148.8M427.5 149L421.2 149.2M429.3 143.4L428.3 143.5M425.9 140.4L424 140.7M423.2 140.2L404.1 143.1M422 140.5L403.2 143.4M419.3 142.3L401.1 144.7M418.2 143.5L400.3 145.6M415.8 147.2L398.6 148.4M415 149L397.9 149.8M413.4 154L396.7 153.5M412.9 156.2L396.4 155.2M412.4 161.7L395.9 159.3M412.3 164L395.9 161M412.9 169.2L396.3 164.9M413.3 171.2L396.7 166.4M414.8 175.2L397.8 169.4M415.7 176.6L398.4 170.5M418 179L400.2 172.2M419.1 179.6L401 172.7M422.2 178L422.8 179.6L424 179.2L424.7 177.3L425.7 176.6L426.7 177.4L427.8 176.3L428.1 174.1L429 172.7L430.1 172.7L430.9 170.8L430.8 168.8L431.4 166.9L432.4 166L432.9 163.8L432.4 162.1L432.6 160L433.5 158.5L433.5 156.2L432.6 155.1L432.4 153.1L433 151.1L432.5 149.2L431.5 148.9L430.9 147.4L431 145.2L430.2 143.8L429.1 144.4L428.2 143.5L428 141.5L426.9 140.9L425.9 142.3L424.9 142.2L424.2 140.7L423.1 141L422.4 142.9L421.3 143.6L420.4 142.8L419.3 143.9L419 146.1L418.1 147.5L417 147.5L416.2 149.4L416.3 151.4L415.7 153.4L414.6 154.2L414.2 156.4L414.7 158.1L414.5 160.2L413.6 161.8L413.6 164L414.5 165.1L414.7 167.1L414.1 169.1L414.5 171.1L415.6 171.3L416.2 172.9L416 175L416.8 176.4L417.9 175.8L418.8 176.7L419.1 178.7L419.8 179.1L420.2 179.3L421.1 177.9L422.2 178M422.2 172.5L423 172.5L423.7 172.3L424.7 171.8L425.8 170.9L426.3 170.4L427 169.4L427.9 167.7L428.8 165.5L429.2 163.8L429.5 162.4L429.7 160.8L429.9 158.8L429.8 156L429.4 153.8L428.9 151.8L428.1 150.2L427.8 149.7L427.1 148.9L426.3 148.2L425.6 147.9L424.8 147.7L424 147.7L423.4 147.9L422.4 148.4L421.6 149L420.8 149.8L420.1 150.9L419.4 152L419 153L418.3 154.7L417.8 156.6L417.3 159.5L417.2 161.4L417.3 164.3L417.7 166.5L418.2 168.4L419 170.1L419.3 170.5L419.9 171.3L420.7 171.9L421 172.1L421.4 172.3L422.2 172.5"/>
<path class="l" stroke-width="1.15" d="M395.9 159.3L395.9 161L397.2 161.5L397.3 162.9L396.3 164.9L396.7 166.4L398.4 166.9L397.8 169.4L398.4 170.5L400.2 171.1L400.2 172.2L401 172.7L419.1 179.6L420.2 179.3L421.8 179.8L423.6 179.4L424 179.2L424.7 177.4L425.7 177.7L426.7 177.4L427.8 176.3L428.1 174.1L428.9 172.8L429.2 172.8L430.1 172.7L430.9 170.8L430.8 168.8L431.4 166.9L432.4 166L432.9 163.8L432.4 162.1L432.6 160L433.5 158.5L433.5 157.7L433.5 156.2L432.6 155.1L432.4 153.1L433 151.1L432.5 149.2L431.7 148.8L431.4 148.8L430.9 147.4L431 145.2L430.2 143.8L429.3 143.4L428.3 143.5L428 141.5L425.9 140.4L424.3 140.7L423.2 140.2L404.1 143.1L403.5 143.3L403.2 143.4L403 144.5L401.1 144.7L400.3 145.6L400.4 148.2L398.6 148.4L398.1 149.3L397.9 149.8L398.5 152L398.1 153.3L396.7 153.5L396.4 155.2L397.4 156.6L397.2 158.1L395.9 159.3Z"/><path class="f" d="M417.8 168.4L418.3 169.5L418.9 170.5L419.5 171.3L420.2 171.9L421 172.3L421.8 172.5L429.1 173.3L429.9 173.2L430.8 173L431.6 172.6L432.4 171.9L433.2 171.1L433.9 170.1L434.6 168.9L435.2 167.6L435.7 166.2L436.1 164.7L436.4 163.1L436.6 161.5L436.8 159.9L436.8 158.2L436.7 156.7L436.5 155.2L436.2 153.8L435.7 152.5L435.2 151.4L434.7 150.4L434 149.6L433.3 149L432.5 148.6L431.7 148.4L424.4 147.6L423.6 147.7L422.8 147.9L421.9 148.3L421.1 149L420.4 149.8L419.6 150.8L419 152L418.4 153.3L417.9 154.7L417.4 156.2L417.1 157.8L416.9 159.4L416.8 161L416.8 162.6L416.9 164.2L417.1 165.7L417.4 167.1L417.8 168.4Z"/>
<path class="l" stroke-width="0.7" d="M430 148.2L429.2 148.2M429.2 148.2L428.4 148.5M428.4 148.5L427.5 148.9M427.5 148.9L426.7 149.6M426.7 149.6L426 150.4M426 150.4L425.2 151.4M425.2 151.4L424.6 152.6M424.6 152.6L424 153.9M424 153.9L423.5 155.3M423.5 155.3L423 156.8M423 156.8L422.7 158.4M422.7 158.4L422.5 160M422.5 160L422.4 161.6M422.4 161.6L422.4 163.2M422.4 163.2L422.5 164.8M422.5 164.8L422.7 166.3M422.7 166.3L423 167.7M423 167.7L423.4 169M423.4 169L423.9 170.1M423.9 170.1L424.5 171.1M424.5 171.1L425.1 171.9M425.1 171.9L425.8 172.5M425.8 172.5L426.6 172.9M426.6 172.9L427.4 173.1M429.1 173.3L429.9 173.2L430.4 173.1L430.8 173L431.6 172.6L432.4 171.9L433.2 171.1L433.9 170.1L434.6 168.9L435 167.9L435.7 166.2L436.2 164.3L436.6 161.5L436.8 158.8L436.7 156.7L436.3 154.5L435.7 152.5L435 150.9L434.7 150.4L434 149.6L433.3 149L432.5 148.6L431.7 148.4L430.9 148.4L430.4 148.6L430.1 148.7L429.3 149.1L428.4 149.7L427.7 150.6L427 151.6L426 153.4L425.2 155.5L424.7 157.3L424.2 160.2L424.1 162.2L424.2 165L424.4 166.5L424.6 167.5L425.1 169.2L425.6 170.3L426 170.9L426.8 172.1L427.7 172.8L428.3 173.1L429.1 173.3M430.1 167.4L430.5 168.7L431.2 168.3L431.4 166.7L432.1 165.9L432.9 166.4L433.4 165.3L433.1 163.8L433.4 162.8L433.5 162.5L434.3 161.9L434.5 160.6L433.8 159.9L433.7 158.4L434.3 157.1L434 155.9L433.1 156.3L432.6 155.3L432.8 153.7L432.3 153.3L432.1 153.2L431.5 154.4L430.7 154.3L430.3 153L429.6 153.3L429.4 155L428.7 155.8L428 155.3L427.5 156.2L427.4 156.4L427.7 157.8L427.4 159.2L426.5 159.7L426.4 161.1L427.1 161.8L427.2 163.2L426.6 164.6L426.8 165.6L426.9 165.7L427.7 165.4L428.2 166.3L428.1 168L428.7 168.5L429.4 167.3L430.1 167.4"/>
<path class="l" stroke-width="1.15" d="M417.8 168.4L418.3 169.5L418.9 170.5L419.5 171.3L420.2 171.9L421 172.3L421.8 172.5L429.1 173.3L429.9 173.2L430.8 173L431.6 172.6L432.4 171.9L433.2 171.1L433.9 170.1L434.6 168.9L435.2 167.6L435.7 166.2L436.1 164.7L436.4 163.1L436.6 161.5L436.8 159.9L436.8 158.2L436.7 156.7L436.5 155.2L436.2 153.8L435.7 152.5L435.2 151.4L434.7 150.4L434 149.6L433.3 149L432.5 148.6L431.7 148.4L424.4 147.6L423.6 147.7L422.8 147.9L421.9 148.3L421.1 149L420.4 149.8L419.6 150.8L419 152L418.4 153.3L417.9 154.7L417.4 156.2L417.1 157.8L416.9 159.4L416.8 161L416.8 162.6L416.9 164.2L417.1 165.7L417.4 167.1L417.8 168.4Z"/>
<path d="M441.3 210.8C433 207.5 425 207.5 418 208.8C410 210.5 403 213 397 215.3C393 217 389.5 219 386.8 221.1L381 218.6C379.5 218 377.5 218 376 218.7C373.5 220 372.3 223 372.3 226.5C372.3 231 374 235.5 378 237.1L380.3 237.8L379.6 263.9C379.8 266.5 380.8 268.3 382.5 269.7C385.5 271.8 389 273 392.6 274L407.1 281.3L425 284L440 215Z" fill="#fff" stroke="#222" stroke-width="1" stroke-linejoin="round"/>
<path class="l" stroke-width="0.8" d="M386.8 221.1C384 223 382.3 226.5 381.8 230.5L380.3 237.8M381.8 230.5C382.5 228.5 383.8 227.2 385.4 226.9L399.9 226.9C403.5 227.5 406.5 230.5 407.9 234.2L409 250"/>
<path class="l" stroke-width="0.7" d="M409 237.5C407.5 233.5 403 230.5 398.4 230.5L387 231.5C385.5 231.8 384.7 233 384.7 234.5L385.4 262.5C385.6 265 387.2 267.2 389.7 268.2L404.2 274"/>
<path class="l" stroke-width="0.6" d="M391.9 232.7C390.5 235.5 390.3 239 391.2 240.7C392.3 242.8 394 243.3 395.5 242.9C398.5 242 401 239.5 402.8 236.3M386.1 236.3C386.3 242 387.5 247 389.7 249.4C393 251.5 399 250.5 404.2 247.9"/>
<path class="f" d="M402.7 261.8L402.8 264.4L402.9 267L403.2 269.5L403.6 272L404.2 274.3L404.8 276.5L405.5 278.7L406.4 280.6L407.3 282.5L408.4 284.2L409.5 285.8L410.7 287.2L412 288.4L413.4 289.5L414.9 290.4L416.4 291.1L418 291.7L421.9 292.8L423.5 293.2L425.2 293.4L426.9 293.4L428.6 293.2L430.4 292.8L432.2 292.3L434 291.5L435.8 290.6L437.5 289.6L439.3 288.3L441.1 286.9L442.8 285.4L444.4 283.7L446.1 281.8L447.7 279.8L449.2 277.7L450.6 275.5L452 273.2L453.3 270.8L454.6 268.2L455.7 265.7L456.7 263L457.7 260.3L458.5 257.5L459.3 254.8L459.9 252L460.4 249.1L460.8 246.3L461.1 243.6L461.3 240.8L461.4 238.1L461.3 235.4L461.1 232.9L460.8 230.3L460.4 227.9L459.9 225.6L459.3 223.3L458.6 221.2L457.7 219.2L456.8 217.4L455.7 215.7L454.6 214.1L453.4 212.7L452.1 211.5L450.7 210.4L449.2 209.5L447.7 208.8L446.1 208.2L442.2 207.1L440.6 206.7L438.9 206.5L437.2 206.5L435.4 206.7L433.7 207.1L431.9 207.6L430.1 208.3L428.3 209.2L426.5 210.3L424.8 211.5L423 212.9L421.3 214.5L419.6 216.2L418 218L416.4 220L414.9 222.1L413.4 224.4L412.1 226.7L410.8 229.1L409.5 231.6L408.4 234.2L407.3 236.9L406.4 239.6L405.6 242.3L404.8 245.1L404.2 247.9L403.7 250.7L403.3 253.5L403 256.3L402.8 259.1L402.7 261.8Z"/>
<path class="l" stroke-width="0.5" d="M420.3 292.2L418.8 291.5L417.5 290.7L415.9 289.5L414.6 288.3L414 287.6L413.4 286.9L412.3 285.3L411.2 283.6L410.7 282.6L409.4 279.8L408.7 277.7L408.1 275.6L407.6 273.1L407 269.7L406.7 265.6L406.7 261.3L406.9 257.4L407.5 252.4L408.1 249L408.7 246.2L409.5 243.3L410.3 240.7L411.3 238L412.3 235.3L414.3 231L416 227.8L418.1 224.4L420.3 221.2L422 219L423.6 217.3L425.2 215.6L427.4 213.7L428.7 212.7L430.5 211.4L432.2 210.4L433.2 209.9L434 209.5L435.8 208.7L437.6 208.2L438.5 208L439.4 207.8L441.1 207.6L443 207.7L444.5 207.8L446.1 208.2L447.7 208.8L448.4 209.1L449.2 209.5L450.7 210.4L452.1 211.5L452.6 212L453.4 212.7L454.6 214.1L455.7 215.7L456.6 217.1L457.7 219.2L458.7 221.6L459.3 223.3L459.9 225.6L460.6 228.6L460.8 230.3L461.1 232.9L461.3 237L461.3 240.8L461.1 243.6L460.9 246L460.4 249.1L459.9 252L459.3 254.8L457.9 259.6L456.7 263L455.7 265.7L454.6 268.2L452.8 271.8L450.6 275.5L449.2 277.7L448 279.4L446.1 281.8L444.4 283.7L442.9 285.2L441.1 286.9L439.3 288.3L437.5 289.6L435.8 290.6L433.4 291.8L432.2 292.3L430.4 292.8L428.6 293.2L427.7 293.3L426.9 293.4L425.2 293.4L423.5 293.2L422.1 292.8L420.3 292.2"/>
<path class="l" stroke-width="0.75" d="M422.7 289.8L424.2 290.2L425 290.3L425.8 290.4L427.4 290.4L429 290.2L429.7 290L430.7 289.9L432.3 289.3L434 288.7L435.3 288L437.3 286.8L438.9 285.7L440.4 284.5L442.2 282.9L443.7 281.4L445 279.9L446.7 277.8L448.3 275.5L450.8 271.6L452.9 267.5L454.2 264.6L455.3 261.6L456.8 257L457.8 253L458.6 249.2L459 246.6L459.2 244.2L459.4 241.5L459.4 237.3L459.2 234.1L458.8 230.6L458.1 227.3L457.5 225.2L456.9 223.5L456.1 221.4L455.2 219.7L454.5 218.6L453.2 216.7L452 215.4L451.1 214.5L449.5 213.2L448.2 212.4L447.1 211.8L445.3 211.2L443.8 210.8L442.4 210.7L440.6 210.6L438.6 210.9L437.3 211.1L435.7 211.7L434 212.3L432.7 213L430.7 214.2L429.1 215.3L427.7 216.4L425.8 218.1L424.3 219.6L423 221.1L421.3 223.2L419.6 225.6L417.2 229.4L415.1 233.5L413.8 236.4L412 241.2L411.2 244L410.5 246.7L409.4 251.8L408.8 256.2L408.6 259.5L408.6 263.7L408.8 266.9L409.2 270.4L409.9 273.7L410.5 275.8L411.1 277.5L411.9 279.6L413 281.6L413.8 282.9L414.8 284.3L416 285.6L416.7 286.3L417.2 286.8L418.5 287.8L420.2 288.8L421.3 289.3L422.7 289.8M430.6 262.5L431.7 262.7L432.5 262.6L433.5 262.4L434.5 261.9L435.2 261.4L436.5 260.4L437.4 259.4L438 258.7L439.1 256.9L440 255.2L440.5 254L441 252.5L441.5 250L441.8 247.7L441.8 246.2L441.7 245.1L441.4 243.4L441 242.2L440.5 241.2L439.9 240.2L439.1 239.4L438.8 239.2L438.3 238.8L437.4 238.5L436.5 238.3L435.7 238.4L434.5 238.6L433.5 239.1L432.8 239.6L431.5 240.6L430.1 242.2L428.9 244.1L428 245.8L427.5 247L427 248.5L426.5 251L426.2 253.3L426.2 254.8L426.3 255.9L426.6 257.6L427 258.8L427.5 259.8L428.1 260.8L428.9 261.6L429.4 261.9L429.7 262.2L430.6 262.5M430 262.5L425.2 286.4M432.5 262.8L426.6 286.5M431.4 284.4L431.9 284.4L432.4 284L432.8 283.5L433.1 282.8L433.2 282L433.2 281.3L432.9 280.8L432.5 280.5L432.1 280.6L431.6 280.9L431.2 281.4L430.9 282.1L430.7 282.9L430.8 283.6L431 284.1L431.4 284.4M430.4 281.1L429.9 282.5L429.9 283.3L429.9 283.9L430 284.6L430.3 285.1L430.6 285.5L431 285.7L431.4 285.8L431.9 285.7L432.4 285.4L432.8 285L433.2 284.5L433.6 283.8L434 282.4M433.9 262.4L437 283.3M436.6 260.5L438.5 282.3M442 276.9L442.5 276.9L443 276.6L443.4 276L443.7 275.3L443.8 274.5L443.8 273.9L443.5 273.3L443.2 273.1L442.7 273.1L442.2 273.4L441.8 274L441.5 274.7L441.4 275.4L441.4 276.1L441.7 276.6L442 276.9M440.5 275.3L440.5 276L440.5 276.7L440.7 277.3L441 277.8L441.3 278.1L441.7 278.3L442.2 278.3L442.7 278.1L443.1 277.8L443.6 277.4L444 276.8L444.3 276.1L444.7 274.7L444.7 273.9L444.6 273.3M437.9 259L448 271.5M440 255.5L449.2 269.5M450.4 262.9L450.8 262.9L451.3 262.5L451.7 262L452 261.3L452.2 260.5L452.1 259.8L451.9 259.3L451.5 259L451 259.1L450.5 259.4L450.1 259.9L449.8 260.6L449.7 261.4L449.7 262.1L450 262.6L450.4 262.9M448.9 262.9L449.1 263.4L449.4 263.9L449.8 264.1L450.2 264.3L450.7 264.2L451.1 264L451.6 263.7L452 263.2L452.4 262.5L452.7 261.9L453 260.4L453 259.7L452.9 259L452.7 258.5L452.4 258M440.8 253.4L455.3 254M441.8 249.1L455.8 251.7M454.1 246L454.6 246L455.1 245.7L455.5 245.2L455.8 244.4L455.9 243.7L455.9 243L455.6 242.5L455.3 242.2L454.8 242.2L454.3 242.5L453.9 243.1L453.6 243.8L453.5 244.6L453.5 245.3L453.8 245.8L454.1 246M453.3 247.1L453.7 247.4L454.1 247.4L454.6 247.3L455.1 247.1L455.5 246.7L455.9 246.1L456.3 245.5L456.6 244.8L456.7 244L456.8 243.3L456.8 242.6L456.6 242L456.4 241.5L456.1 241.1L455.7 240.9L455.3 240.8M441.9 247L456.8 235.6M441.4 243.2L456.6 233.5M452.4 230.9L452.9 230.9L453.3 230.6L453.8 230L454.1 229.3L454.2 228.6L454.1 227.9L453.9 227.3L453.5 227.1L453 227.1L452.5 227.4L452.1 228L451.8 228.7L451.7 229.4L451.8 230.1L452 230.7L452.4 230.9M452.5 232.3L453 232.1L453.5 231.8L453.9 231.4L454.3 230.8L454.6 230.1L454.9 229.4L455 228.7L455.1 228L455 227.3L454.8 226.7L454.6 226.2L454.2 225.9L453.8 225.7L453.3 225.7L452.9 225.9L452.4 226.2M440.9 241.6L452.2 221.2M439.1 239.2L451.3 219.9M445.5 221.6L446 221.5L446.5 221.2L446.9 220.7L447.2 220L447.3 219.2L447.3 218.5L447 218L446.7 217.7L446.2 217.7L445.7 218.1L445.3 218.6L445 219.3L444.9 220.1L444.9 220.8L445.2 221.3L445.5 221.6M446.8 222.3L447.2 221.8L447.6 221.2L448.1 219.8L448.2 219.1L448.2 218.4L448.1 217.7L447.9 217.2L447.6 216.7L447.2 216.4L446.8 216.3L446.4 216.4L445.9 216.6L445.4 216.9L445 217.4L444.6 218.1M438 238.5L442.8 214.6M435.5 238.2L441.4 214.5M435.5 220.5L435.9 220.4L436.4 220.1L436.8 219.6L437.1 218.9L437.3 218.1L437.2 217.4L437 216.9L436.6 216.6L436.1 216.6L435.6 217L435.2 217.5L434.9 218.2L434.8 219L434.8 219.7L435.1 220.2L435.5 220.5M437.6 219.9L438.1 218.5L438.1 217.7L438.1 217.1L438 216.4L437.7 215.9L437.4 215.5L437 215.3L436.6 215.2L436.1 215.3L435.6 215.6L435.2 216L434.8 216.5L434.4 217.2L434 218.6M434.1 238.6L431 217.7M431.4 240.5L429.5 218.7M424.8 227.9L425.3 227.9L425.8 227.6L426.2 227L426.5 226.3L426.6 225.6L426.6 224.9L426.3 224.4L426 224.1L425.5 224.1L425 224.4L424.6 225L424.3 225.7L424.2 226.5L424.2 227.1L424.5 227.7L424.8 227.9M427.5 225.7L427.5 225L427.5 224.3L427.3 223.7L427 223.2L426.7 222.9L426.3 222.7L425.8 222.7L425.3 222.9L424.9 223.2L424.4 223.6L424 224.2L423.7 224.9L423.3 226.3L423.3 227.1L423.4 227.7M430.1 242L420 229.5M428 245.5L418.8 231.5M416.5 242L417 241.9L417.5 241.6L417.9 241.1L418.2 240.4L418.3 239.6L418.3 238.9L418 238.4L417.6 238.1L417.2 238.1L416.7 238.5L416.3 239L416 239.7L415.8 240.5L415.9 241.2L416.1 241.7L416.5 242M419.1 238.1L418.9 237.6L418.6 237.1L418.2 236.9L417.8 236.7L417.3 236.8L416.9 237L416.4 237.3L416 237.8L415.6 238.5L415.3 239.1L415 240.6L415 241.3L415.1 242L415.3 242.5L415.6 243M427.2 247.6L412.7 247M426.2 251.9L412.2 249.3M412.7 258.8L413.2 258.8L413.7 258.5L414.1 257.9L414.4 257.2L414.5 256.4L414.5 255.7L414.2 255.2L413.9 255L413.4 255L412.9 255.3L412.5 255.8L412.2 256.6L412.1 257.3L412.1 258L412.4 258.5L412.7 258.8M414.7 253.9L414.3 253.6L413.9 253.6L413.4 253.7L412.9 253.9L412.5 254.3L412.1 254.9L411.7 255.5L411.4 256.2L411.3 257L411.2 257.7L411.2 258.4L411.4 259L411.6 259.5L411.9 259.9L412.3 260.1L412.7 260.2M426.1 254L411.2 265.4M426.6 257.8L411.4 267.5M414.5 273.9L415 273.9L415.5 273.6L415.9 273L416.2 272.3L416.3 271.6L416.2 270.9L416 270.3L415.6 270.1L415.1 270.1L414.7 270.4L414.2 271L413.9 271.7L413.8 272.4L413.9 273.1L414.1 273.7L414.5 273.9M415.5 268.7L415 268.9L414.5 269.2L414.1 269.6L413.7 270.2L413.4 270.9L413.1 271.6L413 272.3L412.9 273L413 273.7L413.2 274.3L413.4 274.8L413.8 275.1L414.2 275.3L414.7 275.3L415.1 275.1L415.6 274.8M427.1 259.4L415.8 279.8M428.9 261.8L416.7 281.1M421.3 283.3L421.8 283.3L422.3 282.9L422.7 282.4L423 281.7L423.1 280.9L423.1 280.2L422.8 279.7L422.5 279.4L422 279.5L421.5 279.8L421.1 280.3L420.8 281L420.7 281.8L420.7 282.5L421 283L421.3 283.3M421.2 278.7L420.8 279.2L420.4 279.8L419.9 281.2L419.8 281.9L419.8 282.6L419.9 283.3L420.1 283.8L420.4 284.3L420.8 284.6L421.2 284.7L421.6 284.6L422.1 284.4L422.6 284.1L423 283.6L423.4 282.9M437.2 261.5L433 276.4L429.8 264.2M439.6 237.5L449.2 232.2L442.9 246M425.2 252.5L419.8 242.9L429.3 241.3"/>
<path class="l" stroke-width="0.5249999999999999" d="M431.3 262.7L425.9 286.4M435.3 261.4L437.8 282.8M438.9 257.3L448.6 270.5M441.3 251.3L455.5 252.8M441.7 245.1L456.7 234.5M440 240.4L451.8 220.5M436.7 238.3L442.1 214.6M432.7 239.6L430.2 218.2M429.1 243.7L419.4 230.5M426.7 249.7L412.5 248.2M426.3 255.9L411.3 266.5M428 260.6L416.2 280.5"/>
<path class="l" stroke-width="1.0" d="M402.7 261.8L402.8 264.4L402.9 267L403.2 269.5L403.6 272L404.2 274.3L404.8 276.5L405.5 278.7L406.4 280.6L407.3 282.5L408.4 284.2L409.5 285.8L410.7 287.2L412 288.4L413.4 289.5L414.9 290.4L416.4 291.1L418 291.7L421.9 292.8L423.5 293.2L425.2 293.4L426.9 293.4L428.6 293.2L430.4 292.8L432.2 292.3L434 291.5L435.8 290.6L437.5 289.6L439.3 288.3L441.1 286.9L442.8 285.4L444.4 283.7L446.1 281.8L447.7 279.8L449.2 277.7L450.6 275.5L452 273.2L453.3 270.8L454.6 268.2L455.7 265.7L456.7 263L457.7 260.3L458.5 257.5L459.3 254.8L459.9 252L460.4 249.1L460.8 246.3L461.1 243.6L461.3 240.8L461.4 238.1L461.3 235.4L461.1 232.9L460.8 230.3L460.4 227.9L459.9 225.6L459.3 223.3L458.6 221.2L457.7 219.2L456.8 217.4L455.7 215.7L454.6 214.1L453.4 212.7L452.1 211.5L450.7 210.4L449.2 209.5L447.7 208.8L446.1 208.2L442.2 207.1L440.6 206.7L438.9 206.5L437.2 206.5L435.4 206.7L433.7 207.1L431.9 207.6L430.1 208.3L428.3 209.2L426.5 210.3L424.8 211.5L423 212.9L421.3 214.5L419.6 216.2L418 218L416.4 220L414.9 222.1L413.4 224.4L412.1 226.7L410.8 229.1L409.5 231.6L408.4 234.2L407.3 236.9L406.4 239.6L405.6 242.3L404.8 245.1L404.2 247.9L403.7 250.7L403.3 253.5L403 256.3L402.8 259.1L402.7 261.8Z"/>
<path class="f" d="M431 256.6L431.2 257.6L431.5 258.5L431.8 259.3L432.3 259.9L432.8 260.5L433.4 260.9L434 261.2L444.2 264.1L444.9 264.2L445.6 264.1L446.3 264L447 263.6L447.8 263.2L448.5 262.6L449.2 261.8L449.8 261L450.4 260.1L450.9 259L451.3 258L451.7 256.9L452 255.7L452.2 254.6L452.3 253.4L452.3 252.3L452.2 251.3L452 250.3L451.7 249.4L451.3 248.6L450.9 248L450.4 247.4L449.8 247L449.2 246.8L439 243.8L438.3 243.7L437.6 243.8L436.9 244L436.1 244.3L435.4 244.8L434.7 245.4L434 246.1L433.4 246.9L432.8 247.9L432.3 248.9L431.8 249.9L431.5 251.1L431.2 252.2L431 253.3L430.9 254.5L430.9 255.6L431 256.6Z"/>
<path class="l" stroke-width="0.5" d="M441.8 263.4L441.2 263.1M441.2 263.1L440.6 262.7M440.6 262.7L440.1 262.2M440.1 262.2L439.7 261.5M439.7 261.5L439.3 260.7M439.3 260.7L439 259.8M439 259.8L438.8 258.9M438.8 258.9L438.7 257.8M438.7 257.8L438.7 256.7M438.7 256.7L438.8 255.6M438.8 255.6L439 254.4M439 254.4L439.3 253.3M439.3 253.3L439.7 252.2M439.7 252.2L440.1 251.1M440.1 251.1L440.6 250.1M440.6 250.1L441.2 249.2M441.2 249.2L441.9 248.3M441.9 248.3L442.5 247.6M442.5 247.6L443.2 247M443.2 247L444 246.5M444 246.5L444.7 246.2M444.7 246.2L445.4 246M445.4 246L446.1 246M446.1 246L446.8 246.1M449.2 246.8L449.8 247L450.2 247.3L450.9 248L451.3 248.6L451.7 249.4L452 250.3L452.2 251.8L452.3 253.4L452.1 255.1L451.7 256.9L451.3 258L450.4 260.1L449.7 261.1L448.5 262.6L447.8 263.2L447.2 263.5L446.3 264L445.2 264.2L444.9 264.2L444.2 264.1L443.6 263.8L443 263.4L442.5 262.9L441.9 262L441.7 261.4L441.4 260.5L441.1 258.7L441.1 257.4L441.3 255.7L441.7 254L442 252.9L443 250.8L444 249.3L444.9 248.3L446 247.4L447.1 246.9L448.1 246.7L448.5 246.7L449.2 246.8M447.8 251.6L448.3 251.9L448.6 252.1L448.8 252.6L449 253.2L449.2 254.5L448.9 256.1L448.3 257.5L447.5 258.6L447.2 258.9L446.5 259.2L446 259.3L445.6 259.3L445.2 259.1L444.8 258.7L444.4 258.1L444.3 257.7L444.2 256.3L444.4 254.8L445 253.4L445.9 252.2L446.4 251.9L446.8 251.6L447.5 251.5L447.8 251.6"/>
<path class="l" stroke-width="1.0" d="M431 256.6L431.2 257.6L431.5 258.5L431.8 259.3L432.3 259.9L432.8 260.5L433.4 260.9L434 261.2L444.2 264.1L444.9 264.2L445.6 264.1L446.3 264L447 263.6L447.8 263.2L448.5 262.6L449.2 261.8L449.8 261L450.4 260.1L450.9 259L451.3 258L451.7 256.9L452 255.7L452.2 254.6L452.3 253.4L452.3 252.3L452.2 251.3L452 250.3L451.7 249.4L451.3 248.6L450.9 248L450.4 247.4L449.8 247L449.2 246.8L439 243.8L438.3 243.7L437.6 243.8L436.9 244L436.1 244.3L435.4 244.8L434.7 245.4L434 246.1L433.4 246.9L432.8 247.9L432.3 248.9L431.8 249.9L431.5 251.1L431.2 252.2L431 253.3L430.9 254.5L430.9 255.6L431 256.6Z"/>
<path class="f" d="M220.1 160.5L240.4 141.3L240.6 141.1L240.8 140.6L240.8 139.9L240.7 139.6L240.3 138.6L239.5 137.7L238.6 137.1L238 136.9L237.3 136.9L237 136.9L236.8 137L236.3 137.3L216.1 156.3L216 156.5L215.8 157.1L215.8 157.7L215.9 158L216.3 159L217 159.9L218 160.5L218.3 160.6L218.9 160.7L219.6 160.7L220.1 160.5Z"/>
<path class="l" stroke-width="0.5" d="M219.8 156.8L239.8 138M216.3 156.1L215.9 156.8L215.8 157.7L216.1 158.7L216.8 159.6L217.7 160.3L218.6 160.7L219.6 160.7L220.3 160.3L220.7 159.6L220.8 158.7L220.5 157.7L219.8 156.8L218.9 156.1L218 155.7L217 155.7L216.3 156.1M217.2 157L217 157.4L216.9 157.9L217.1 158.5L217.5 159L217.9 159.4L218.5 159.6L219 159.6L219.4 159.4L219.6 159L219.7 158.5L219.5 157.9L219.1 157.4L218.7 157L218.1 156.8L217.6 156.8L217.2 157"/>
<path class="l" stroke-width="1.0" d="M220.1 160.5L240.4 141.3L240.6 141.1L240.8 140.6L240.8 139.9L240.7 139.6L240.3 138.6L239.5 137.7L238.6 137.1L238 136.9L237.3 136.9L237 136.9L236.8 137L236.3 137.3L216.1 156.3L216 156.5L215.8 157.1L215.8 157.7L215.9 158L216.3 159L217 159.9L218 160.5L218.3 160.6L218.9 160.7L219.6 160.7L220.1 160.5Z"/>
<path class="f" d="M406.9 98.8L385.8 118.6L385.7 118.8L385.5 119.4L385.5 120L385.6 120.3L386 121.3L386.8 122.2L387.7 122.8L388.3 123L389 123L389.3 123L389.5 122.9L390 122.6L410.8 103L411.1 102.5L411.1 101.9L411.1 101.6L410.8 100.6L410.2 99.7L409.6 99.2L408.6 98.7L408 98.6L407.7 98.6L407.4 98.6L406.9 98.8Z"/>
<path class="l" stroke-width="0.5" d="M389.5 119.1L410.2 99.7M386 118.4L385.6 119.1L385.5 120L385.8 121L386.5 121.9L387.4 122.6L388.3 123L389.3 123L390 122.6L390.4 121.9L390.5 121L390.2 120L389.5 119.1L388.6 118.4L387.7 118L386.7 118L386 118.4M386.9 119.3L386.7 119.7L386.6 120.2L386.8 120.8L387.2 121.3L387.6 121.7L388.2 121.9L388.7 121.9L389.1 121.7L389.3 121.3L389.4 120.8L389.2 120.2L388.8 119.7L388.4 119.3L387.8 119.1L387.3 119.1L386.9 119.3"/>
<path class="l" stroke-width="1.0" d="M406.9 98.8L385.8 118.6L385.7 118.8L385.5 119.4L385.5 120L385.6 120.3L386 121.3L386.8 122.2L387.7 122.8L388.3 123L389 123L389.3 123L389.5 122.9L390 122.6L410.8 103L411.1 102.5L411.1 101.9L411.1 101.6L410.8 100.6L410.2 99.7L409.6 99.2L408.6 98.7L408 98.6L407.7 98.6L407.4 98.6L406.9 98.8Z"/>
<path class="f" d="M172.5 158.5L172.5 227.8L172.5 228.3L172.7 228.7L173 229.1L173.3 229.6L173.8 229.9L175.1 230.6L176.6 231L178.3 231.3L179.2 231.3L180.9 231.2L182.5 230.8L183.9 230.3L184.5 229.9L185 229.6L185.3 229.1L185.6 228.7L185.8 228.3L185.8 227.8L185.8 158.5L185.8 158L185.6 157.6L185.3 157.2L185 156.8L184.5 156.4L183.9 156L182.5 155.5L181.7 155.3L180 155L179.2 155L178.3 155L176.6 155.3L175.8 155.5L174.4 156L173.8 156.4L173.3 156.8L173 157.2L172.7 157.6L172.5 158L172.5 158.5Z"/>
<path class="l" stroke-width="0.5" d="M185.8 158.5L185.8 158L185.6 157.6L185.3 157.2L184.6 156.5L183.9 156L183 155.7L181.7 155.3L180.4 155.1L179.2 155L177.9 155.1L176.6 155.3L175.3 155.7L174.4 156L173.7 156.5L173 157.2L172.7 157.6L172.5 158L172.5 158.5L172.5 159L172.7 159.4L173 159.8L173.7 160.5L174.4 161L175.3 161.3L176.6 161.7L177.9 161.9L179.2 162L180.4 161.9L181.7 161.7L183 161.3L183.9 161L184.6 160.5L185.3 159.8L185.7 159.3L185.8 158.5"/>
<path class="l" stroke-width="1.0" d="M172.5 158.5L172.5 227.8L172.5 228.3L172.7 228.7L173 229.1L173.3 229.6L173.8 229.9L175.1 230.6L176.6 231L178.3 231.3L179.2 231.3L180.9 231.2L182.5 230.8L183.9 230.3L184.5 229.9L185 229.6L185.3 229.1L185.6 228.7L185.8 228.3L185.8 227.8L185.8 158.5L185.8 158L185.6 157.6L185.3 157.2L185 156.8L184.5 156.4L183.9 156L182.5 155.5L181.7 155.3L180 155L179.2 155L178.3 155L176.6 155.3L175.8 155.5L174.4 156L173.8 156.4L173.3 156.8L173 157.2L172.7 157.6L172.5 158L172.5 158.5Z"/><path d="M185.54999999999998 183.2C181.6 183.2 179.6 183.7 179.6 185.7L179.6 204.8C179.6 206.8 181.6 207.3 185.54999999999998 207.3" fill="#fff" stroke="#222" stroke-width="0.6"/>
<path class="f" d="M354.2 106.5L354.2 175.1L354.3 175.6L354.4 176L354.7 176.4L355.1 176.9L355.6 177.2L356.8 177.9L358.3 178.3L360 178.6L360.9 178.6L362.6 178.5L364.3 178.1L365.6 177.6L366.2 177.2L366.7 176.9L367.1 176.4L367.4 176L367.5 175.6L367.6 175.1L367.6 106.5L367.5 106L367.4 105.6L367.1 105.2L366.7 104.8L366.2 104.4L365.6 104L364.3 103.5L363.5 103.3L361.8 103L360.9 103L360 103L358.3 103.3L357.5 103.5L356.2 104L355.6 104.4L355.1 104.8L354.7 105.2L354.4 105.6L354.3 106L354.2 106.5Z"/>
<path class="l" stroke-width="0.5" d="M367.6 106.5L367.4 105.7L367.1 105.2L366.3 104.5L365.6 104L364.8 103.7L363.5 103.3L361.9 103.1L360.9 103L359.9 103.1L358.3 103.3L357 103.7L356.2 104L355.5 104.5L354.7 105.2L354.4 105.7L354.2 106.5L354.4 107.3L354.7 107.8L355.5 108.5L356.2 109L357 109.3L358.3 109.7L359.9 109.9L360.9 110L361.9 109.9L363.5 109.7L364.2 109.5L365.6 109L366.3 108.5L367.1 107.8L367.4 107.3L367.6 106.5"/>
<path class="l" stroke-width="1.0" d="M354.2 106.5L354.2 175.1L354.3 175.6L354.4 176L354.7 176.4L355.1 176.9L355.6 177.2L356.8 177.9L358.3 178.3L360 178.6L360.9 178.6L362.6 178.5L364.3 178.1L365.6 177.6L366.2 177.2L366.7 176.9L367.1 176.4L367.4 176L367.5 175.6L367.6 175.1L367.6 106.5L367.5 106L367.4 105.6L367.1 105.2L366.7 104.8L366.2 104.4L365.6 104L364.3 103.5L363.5 103.3L361.8 103L360.9 103L360 103L358.3 103.3L357.5 103.5L356.2 104L355.6 104.4L355.1 104.8L354.7 105.2L354.4 105.6L354.3 106L354.2 106.5Z"/><path d="M367.29999999999995 131.2C363.2 131.2 361.2 131.7 361.2 133.7L361.2 152.8C361.2 154.8 363.2 155.3 367.29999999999995 155.3" fill="#fff" stroke="#222" stroke-width="0.6"/>
<path d="M352 369L321.7 381.7L315 379.4C310 379.4 307.9 384 307.9 389C307.9 394 310 397.7 315 397.7L316.8 398L316.5 422.3C316.5 427 318.5 430.5 323 433L338 440L360 420L360 372Z" fill="#fff" stroke="#222" stroke-width="1" stroke-linejoin="round"/>
<path class="l" stroke-width="0.7" d="M321.7 381.7C318.8 383.5 317.2 387 316.8 392L316.8 398M342 387.6L322.3 391.7C320.5 392.5 320 394 320 396L320 425C320 428 322 431 324.3 431.7M318.3 389.7L340 387.2"/>
<path class="f" d="M323.5 419L329.7 423.7L323.6 427.6L323.8 430.2L329.2 433.9L325.1 437.9L325.7 440.2L330.8 443.2L328.3 446.7L329.3 448.5L334.2 451L332.9 453.4L334.2 454.7L339.1 456.7L338.8 457.8L340.3 458.5L351.1 461.8L352.8 462.1L354.6 462.4L355.5 462.4L356.3 462.4L358.3 462.2L360 461.9L362 461.5L363.8 460.8L365.8 460L367.6 459.1L369.6 457.9L371.4 456.7L373.4 455.2L375.2 453.7L377.9 451.1L380.6 448.1L382.3 446.1L384 443.8L385.6 441.6L387.2 439.1L388.6 436.7L390.7 432.7L392.7 428.5L393.8 425.8L394.9 422.8L395.9 420L396.8 416.9L397.6 414.1L398.7 409.6L399.5 405L399.9 402.1L400.2 399.1L400.4 396.3L400.5 393.3L400.5 390.5L400.3 386.3L399.8 382.3L399.4 379.8L398.5 376.1L397.4 372.7L396.6 370.6L395.7 368.5L394.7 366.7L393.5 364.9L392.4 363.3L390.4 361.1L389.7 360.5L388.3 359.3L386.8 358.3L385.2 357.4L384.4 357.1L383.6 356.8L381.9 356.2L374.6 354L374.5 354.2L369.4 352.9L367.6 352.9L367.2 354.7L362 353.8L360.1 354.4L359.9 357.9L354.3 357.3L352.5 358.5L353 363.5L346.9 363.3L345.2 365.1L347 371.2L340 371.4L338.4 373.6L342.3 380.2L342.1 380.6L333.9 381.3L332.6 383.9L338 388.8L336.8 391.5L329 392.4L328.1 395.2L333.8 400.4L333 403.2L325.6 404.2L325 407.1L331.1 412.3L330.9 414.1L323.7 416.2L323.5 419Z"/>
<path class="l" stroke-width="0.5" d="M376 354.9L369.4 352.9M374.3 354.9L367.6 352.9M368.6 355.8L362 353.8M366.8 356.4L360.1 354.4M361 359.3L354.3 357.3M359.2 360.6L352.5 358.5M353.6 365.3L346.9 363.3M351.8 367.1L345.2 365.1M346.6 373.5L340 371.4M345.1 375.7L338.4 373.6M340.6 383.3L333.9 381.3M339.3 385.9L332.6 383.9M335.7 394.5L329 392.4M334.7 397.3L328.1 395.2M332.3 406.3L325.6 404.2M331.7 409.2L325 407.1M330.4 418.2L323.7 416.2M330.2 421L323.5 419M330.3 429.6L323.6 427.6M330.5 432.2L323.8 430.2M331.8 440L325.1 437.9M332.4 442.3L325.7 440.2M335 448.8L328.3 446.7M336 450.6L329.3 448.5M339.6 455.5L332.9 453.4M340.9 456.8L334.2 454.7M345.5 459.9L338.8 457.8M347 460.5L340.3 458.5M352.8 462.1L354.6 462.4L356.3 462.4L358.3 462.2L359.1 462.1L360 461.9L362 461.5L363.8 460.8L365.8 460L367.6 459.1L369 458.3L371.4 456.7L373.4 455.2L375.2 453.7L377.9 451.1L380.6 448.1L382.3 446.1L384 443.8L385.6 441.6L387.1 439.2L388.6 436.7L390.1 433.9L391.3 431.4L393.8 425.8L395.4 421.4L396.9 416.8L398.4 411L399.5 405L399.9 401.8L400.4 396.3L400.5 393.3L400.5 390.5L400.3 386.3L399.8 382.3L399.4 379.8L398.8 377.3L398.2 375L397.4 372.7L396.6 370.6L395.8 368.7L394.7 366.7L393.5 364.9L392.4 363.3L391 361.8L389.7 360.5L388.3 359.3L387 358.4L384.4 357.1L381.9 356.2L380.2 355.9L379.3 355.8L378.4 355.6L376.7 355.6L374.7 355.8L373 356.1L371 356.5L369.2 357.2L367.2 358L365.4 358.9L362.5 360.7L359.6 362.8L357.8 364.3L355.9 366L354.2 367.8L352.4 369.9L349.8 373.1L347.4 376.4L345.8 378.9L344.4 381.3L342.9 384.1L341.7 386.6L339.2 392.2L337.6 396.6L336.1 401.2L334.6 407L333.5 413L333.1 416.2L332.6 421.7L332.5 424.7L332.5 427.5L332.6 430.4L332.8 432.8L333.2 435.7L333.6 438.2L334.5 441.9L335.6 445.3L336.4 447.4L337.7 450.1L338.3 451.3L339.5 453.1L340.6 454.7L342 456.2L343.3 457.5L344.7 458.7L346.2 459.7L347.5 460.4L349.4 461.2L351.1 461.8L352.8 462.1M351.1 459.2L353 459.7L354.2 459.8L355 459.9L357 460L359.5 459.7L361.2 459.4L363.3 458.8L365.4 457.9L366.5 457.4L367.5 456.9L369.6 455.6L371.7 454.2L372.8 453.4L373.8 452.5L375.9 450.7L378.3 448.3L379.9 446.5L381.8 444.2L384.3 440.7L385.4 439.1L387.1 436.3L389.4 432L391.6 427.4L393.5 422.4L395.1 417.8L396.1 414.3L396.9 411.1L397.6 407.8L398.3 402.9L398.8 397.9L399 393.1L398.8 388.4L398.6 385.4L398.2 382.5L397.6 379.7L396.9 377L396.1 374.5L395.2 372.1L394.1 369.9L393.6 369L392.9 367.8L391.6 365.9L390.2 364.2L389.7 363.7L388.7 362.7L387.1 361.4L385.5 360.3L384.8 360L383.7 359.5L381.9 358.8L380 358.3L378.8 358.2L378 358.1L376 358L373.5 358.3L371.8 358.6L369.7 359.2L367.6 360.1L366.5 360.6L365.5 361.1L363.4 362.4L361.1 363.9L359.2 365.5L357.1 367.3L355.1 369.3L353.7 370.9L351.2 373.8L349.4 376.3L348.2 378.1L345.9 381.7L344.3 384.6L342.9 387.4L341.4 390.6L340.1 393.8L339.3 395.9L337.9 400.2L336.9 403.7L336.1 406.9L335.4 410.2L334.7 415.1L334.2 420.1L334 424.9L334.2 429.6L334.6 433.6L334.8 435.5L335.4 438.3L336.1 441L336.9 443.5L337.8 445.9L338.9 448.1L339.4 449L340.1 450.2L341.4 452.1L342.8 453.8L343.3 454.3L344.3 455.3L345.9 456.6L347.5 457.7L348.2 458L349.3 458.5L351.1 459.2M353.9 450.1L355.8 450.5L357.1 450.7L358.7 450.7L360.4 450.6L361.4 450.4L362.1 450.2L363.9 449.7L365.6 449L367 448.4L369.1 447.2L370.8 446L371.9 445.1L374.2 443.1L375.8 441.5L377.3 439.9L379 437.8L380.5 435.8L381.7 433.9L383.3 431.4L384.7 428.8L385.9 426.6L387 424.1L388.5 420.2L389.9 416.2L391.1 411.8L391.9 408L392.7 403.1L393 399.9L393.1 395.8L393 392.1L392.5 388L392 385L391.4 382.8L390.9 381.3L390 378.8L389.1 377L388.3 375.6L387.1 373.8L385.7 372.1L384.7 371.1L383.4 370.1L382 369.2L380.7 368.5L379.1 367.9L377.2 367.5L375.9 367.3L374.3 367.3L372.6 367.4L371.6 367.6L370.9 367.8L369.1 368.3L367.4 369L366 369.6L363.9 370.8L362.2 372L361.1 372.9L358.8 374.9L357.2 376.5L355.7 378.1L354 380.2L352.2 382.7L349.7 386.6L348.3 389.2L347.1 391.4L346 393.9L344.5 397.8L343.1 401.8L342.1 405.3L341.1 410L340.3 414.9L340 418.1L339.9 422.2L340 425.9L340.5 430L341 433L341.6 435.2L342.2 437.1L343 439.2L343.9 441L344.7 442.4L345.9 444.2L347.3 445.9L348.3 446.9L349.6 447.9L351 448.8L352.3 449.5L353.9 450.1"/>
<path class="l" stroke-width="1.15" d="M323.5 419L329.7 423.7L323.6 427.6L323.8 430.2L329.2 433.9L325.1 437.9L325.7 440.2L330.8 443.2L328.3 446.7L329.3 448.5L334.2 451L332.9 453.4L334.2 454.7L339.1 456.7L338.8 457.8L340.3 458.5L351.1 461.8L352.8 462.1L354.6 462.4L355.5 462.4L356.3 462.4L358.3 462.2L360 461.9L362 461.5L363.8 460.8L365.8 460L367.6 459.1L369.6 457.9L371.4 456.7L373.4 455.2L375.2 453.7L377.9 451.1L380.6 448.1L382.3 446.1L384 443.8L385.6 441.6L387.2 439.1L388.6 436.7L390.7 432.7L392.7 428.5L393.8 425.8L394.9 422.8L395.9 420L396.8 416.9L397.6 414.1L398.7 409.6L399.5 405L399.9 402.1L400.2 399.1L400.4 396.3L400.5 393.3L400.5 390.5L400.3 386.3L399.8 382.3L399.4 379.8L398.5 376.1L397.4 372.7L396.6 370.6L395.7 368.5L394.7 366.7L393.5 364.9L392.4 363.3L390.4 361.1L389.7 360.5L388.3 359.3L386.8 358.3L385.2 357.4L384.4 357.1L383.6 356.8L381.9 356.2L374.6 354L374.5 354.2L369.4 352.9L367.6 352.9L367.2 354.7L362 353.8L360.1 354.4L359.9 357.9L354.3 357.3L352.5 358.5L353 363.5L346.9 363.3L345.2 365.1L347 371.2L340 371.4L338.4 373.6L342.3 380.2L342.1 380.6L333.9 381.3L332.6 383.9L338 388.8L336.8 391.5L329 392.4L328.1 395.2L333.8 400.4L333 403.2L325.6 404.2L325 407.1L331.1 412.3L330.9 414.1L323.7 416.2L323.5 419Z"/>
<path class="f" d="M353.6 448.4L355.1 448.8L356.6 449L358.2 449L359.9 448.9L361.5 448.6L363.2 448.1L364.8 447.4L366.5 446.6L368.2 445.6L369.9 444.5L371.5 443.2L373.1 441.7L374.7 440.1L376.3 438.4L377.8 436.6L379.2 434.6L380.6 432.5L382 430.3L383.2 428.1L384.4 425.7L385.5 423.3L386.6 420.8L387.5 418.3L388.3 415.7L389.1 413.1L389.7 410.4L390.3 407.8L390.7 405.2L391 402.6L391.3 400L391.4 397.4L391.4 394.9L391.3 392.5L391 390.1L390.7 387.8L390.3 385.6L389.8 383.5L389.1 381.5L388.4 379.6L387.5 377.8L386.6 376.2L385.6 374.7L384.5 373.4L383.3 372.2L382 371.2L380.7 370.3L379.3 369.6L377.8 369.1L376.3 368.7L374.8 368.5L373.2 368.5L371.6 368.6L369.9 369L368.3 369.4L366.6 370.1L364.9 370.9L363.2 371.9L361.6 373.1L359.9 374.4L358.3 375.8L356.7 377.4L355.2 379.1L353.6 381L352.2 382.9L350.8 385L349.5 387.2L348.2 389.5L347 391.8L345.9 394.2L344.9 396.7L343.9 399.3L343.1 401.8L342.3 404.5L341.7 407.1L341.2 409.7L340.7 412.4L340.4 415L340.2 417.6L340.1 420.1L340.1 422.6L340.2 425.1L340.4 427.4L340.7 429.7L341.1 431.9L341.7 434L342.3 436L343.1 437.9L343.9 439.7L344.8 441.3L345.8 442.8L347 444.1L348.1 445.3L349.4 446.3L350.7 447.2L352.1 447.9L353.6 448.4Z"/>
<path class="l" stroke-width="0.75" d="M354.4 445.7L355.8 446L356.6 446.1L357.3 446.2L358.8 446.2L360.3 446.1L361.2 445.9L363.3 445.3L364.9 444.7L365.9 444.2L368 443L369.6 442L371.1 440.7L372.6 439.4L374.1 437.9L375.4 436.5L376.9 434.6L378.8 432L380.8 428.8L382.5 425.7L384.1 422.3L385.6 418.5L386.8 415.2L387.7 411.8L388.5 407.9L389 405L389.5 400.6L389.6 396.5L389.5 393.6L389.1 390.2L388.6 387.2L388.1 385.3L387.5 383.6L386.8 381.6L386 380L385.2 378.7L384.2 377.1L382.9 375.6L382.1 374.8L380.9 373.8L379.6 373L378.7 372.5L377 371.9L375.4 371.5L374.2 371.3L372.7 371.3L371.2 371.4L370.4 371.6L368.1 372.2L365.8 373.2L363.4 374.5L361.9 375.6L360.6 376.5L358.8 378.1L357.1 379.9L354.5 382.9L352.2 386.2L350.6 388.7L348.4 392.8L347.3 395.3L345.8 399L344.7 402.3L343.4 407L342.9 409.7L342.4 413L342 416.9L341.9 420.1L342 423.9L342.2 426.1L342.5 428.3L342.9 430.3L343.5 432.8L344 434.1L344.6 435.9L345.6 437.8L346.3 439L347.2 440.4L348.3 441.6L349 442.3L350.5 443.7L351.8 444.5L352.8 445L354.4 445.7M362.1 420.7L363 420.9L363.9 420.8L364.9 420.6L366.1 420L367 419.5L367.9 418.7L369 417.5L369.8 416.5L370.6 415.3L371.4 413.7L372 412.4L372.5 410.8L373 408.9L373.2 407.7L373.4 406.1L373.4 404.6L373.4 403.7L373.1 401.8L372.8 400.5L372.3 399.4L371.7 398.5L371 397.8L370.4 397.3L369.4 396.8L368.4 396.6L367.5 396.7L366.5 396.9L365.5 397.4L364.8 397.8L363.5 398.8L362.1 400.4L360.8 402.3L360.1 403.7L359.4 405.1L358.9 406.7L358.4 409L358 411.4L358 412.9L358.1 414.2L358.3 415.7L358.7 417L358.9 417.5L359.1 418.1L359.7 419L360.4 419.8L361 420.2L362.1 420.7M360.9 420.3L354.9 441.9M363.3 421.1L356.2 442.3M360.7 441.2L361.1 441.1L361.6 440.8L362 440.3L362.3 439.6L362.5 438.8L362.4 438.1L362.2 437.6L361.8 437.3L361.4 437.4L360.9 437.7L360.5 438.2L360.2 438.9L360 439.7L360.1 440.4L360.3 440.9L360.7 441.2M359.9 437.6L359.3 439L359.2 439.7L359.2 440.4L359.2 441.1L359.4 441.6L359.7 442.1L360 442.4L360.4 442.5L360.9 442.5L361.4 442.3L361.8 442L362.3 441.5L362.6 440.9L363.2 439.5M364.6 420.9L365.6 440.9M367.3 419.4L367.1 440.1M370.8 435.7L371.2 435.7L371.7 435.4L372.1 434.8L372.4 434.1L372.6 433.4L372.5 432.7L372.3 432.2L371.9 431.9L371.5 431.9L371 432.2L370.6 432.8L370.3 433.5L370.1 434.2L370.2 434.9L370.4 435.4L370.8 435.7M369.4 433.8L369.3 434.5L369.3 435.2L369.4 435.8L369.6 436.4L369.9 436.8L370.2 437L370.7 437.1L371.1 437L371.6 436.8L372.1 436.4L372.5 435.9L372.8 435.3L373.3 433.8L373.4 433.1L373.4 432.4M368.6 418.2L376.4 431.4M370.9 414.9L377.7 429.6M379.3 423.6L379.8 423.5L380.3 423.2L380.7 422.7L381 422L381.2 421.2L381.1 420.5L380.9 420L380.5 419.7L380.1 419.7L379.6 420.1L379.2 420.6L378.8 421.3L378.7 422.1L378.7 422.8L379 423.3L379.3 423.6M377.9 423.2L378 423.8L378.2 424.3L378.6 424.7L379 424.9L379.4 424.9L379.9 424.8L380.3 424.5L380.8 424.1L381.2 423.5L381.5 422.9L382 421.4L382 420.7L382 420L381.9 419.4L381.6 418.9M371.9 412.9L384.4 415.7M373.2 408.7L385.1 413.4M384.1 407.9L384.6 407.9L385.1 407.6L385.5 407.1L385.8 406.4L385.9 405.6L385.9 404.9L385.7 404.4L385.3 404.1L384.8 404.1L384.3 404.4L383.9 405L383.6 405.7L383.5 406.5L383.5 407.1L383.7 407.7L384.1 407.9M383.1 408.9L383.5 409.2L383.9 409.3L384.3 409.3L384.8 409.1L385.3 408.8L385.7 408.3L386.1 407.7L386.4 407L386.8 405.6L386.8 404.9L386.7 404.2L386.6 403.6L386.3 403.2L385.9 402.9L385.5 402.7M373.5 406.6L387.3 398.2M373.4 402.6L387.2 396M383.8 393.1L384.3 393L384.7 392.7L385.2 392.2L385.5 391.5L385.6 390.7L385.6 390L385.3 389.5L385 389.2L384.5 389.3L384 389.6L383.6 390.1L383.3 390.8L383.2 391.6L383.2 392.3L383.4 392.8L383.8 393.1M383.7 394.4L384.2 394.4L384.6 394.1L385.1 393.8L385.5 393.2L385.9 392.6L386.2 391.9L386.5 390.5L386.5 389.7L386.4 389.1L386.2 388.6L385.9 388.2L385.5 387.9L385.1 387.8L384.6 387.9L384.1 388.2M373 400.8L384.4 383.5M371.6 398.1L383.7 382M378.5 382.9L378.9 382.9L379.4 382.6L379.9 382L380.2 381.3L380.3 380.6L380.3 379.9L380 379.3L379.7 379.1L379.2 379.1L378.7 379.4L378.3 379.9L378 380.7L377.8 381.4L377.9 382.1L378.1 382.6L378.5 382.9M379.5 383.9L379.9 383.4L380.3 382.9L380.9 381.5L381.2 380.1L381.1 379.4L381 378.8L380.8 378.3L380.4 377.9L380 377.7L379.6 377.7L379.1 377.8L378.7 378.1L378.2 378.6L377.8 379.1M370.6 397.2L376.6 375.6M368.2 396.4L375.3 375.2M369.6 380.2L370 380.2L370.5 379.9L371 379.3L371.3 378.6L371.4 377.8L371.4 377.1L371.1 376.6L370.8 376.4L370.3 376.4L369.8 376.7L369.4 377.2L369.1 377.9L368.9 378.7L369 379.4L369.2 379.9L369.6 380.2M371.5 380L372.1 378.6L372.2 377.8L372.3 377.1L372.2 376.4L372 375.9L371.8 375.4L371.4 375.1L371 375L370.5 375L370.1 375.2L369.6 375.5L369.2 376L368.8 376.6L368.2 378M366.8 396.6L365.8 376.6M364.1 398.1L364.3 377.4M359.5 385.6L360 385.6L360.4 385.3L360.9 384.8L361.2 384L361.3 383.3L361.3 382.6L361 382.1L360.7 381.8L360.2 381.8L359.7 382.1L359.3 382.7L359 383.4L358.8 384.1L358.9 384.8L359.1 385.4L359.5 385.6M362.1 383.8L362.2 383L362.2 382.3L362.1 381.7L361.9 381.2L361.6 380.8L361.2 380.5L360.8 380.4L360.3 380.5L359.8 380.7L359.4 381.1L358.9 381.6L358.6 382.3L358.1 383.7L358 384.4L358 385.1M362.8 399.3L355 386.2M360.5 402.6L353.7 388M350.9 397.8L351.4 397.8L351.9 397.5L352.3 396.9L352.6 396.2L352.7 395.5L352.7 394.8L352.5 394.2L352.1 394L351.6 394L351.1 394.3L350.7 394.8L350.4 395.5L350.3 396.3L350.3 397L350.5 397.5L350.9 397.8M353.6 394.3L353.4 393.7L353.2 393.2L352.9 392.8L352.5 392.6L352 392.6L351.6 392.7L351.1 393L350.6 393.4L350.2 394L349.9 394.6L349.5 396.1L349.4 396.8L349.4 397.5L349.6 398.1L349.8 398.6M359.5 404.6L347.1 401.8M358.3 408.8L346.4 404.1M346.1 413.4L346.6 413.4L347.1 413.1L347.5 412.5L347.8 411.8L348 411.1L347.9 410.4L347.7 409.8L347.3 409.6L346.8 409.6L346.4 409.9L345.9 410.4L345.6 411.2L345.5 411.9L345.5 412.6L345.8 413.1L346.1 413.4M348.3 408.7L348 408.4L347.6 408.2L347.1 408.2L346.6 408.4L346.2 408.7L345.7 409.2L345.3 409.8L345 410.5L344.7 411.9L344.6 412.7L344.7 413.3L344.9 413.9L345.1 414.3L345.5 414.6L345.9 414.8M357.9 410.9L344.1 419.3M358 414.9L344.2 421.5M346.5 428.3L346.9 428.3L347.4 428L347.8 427.4L348.1 426.7L348.3 425.9L348.2 425.3L348 424.7L347.6 424.5L347.2 424.5L346.7 424.8L346.3 425.3L345.9 426L345.8 426.8L345.9 427.5L346.1 428L346.5 428.3M347.7 423.1L347.3 423.1L346.8 423.4L346.3 423.8L345.9 424.3L345.5 424.9L345.3 425.6L344.9 427.1L344.9 427.8L345.1 428.4L345.3 428.9L345.6 429.3L345.9 429.6L346.4 429.7L346.8 429.6L347.3 429.4M358.4 416.7L347 434M359.9 419.4L347.8 435.5M351.8 438.4L352.2 438.4L352.7 438.1L353.1 437.6L353.4 436.9L353.6 436.1L353.5 435.4L353.3 434.9L352.9 434.6L352.5 434.6L352 434.9L351.6 435.5L351.3 436.2L351.1 437L351.2 437.7L351.4 438.2L351.8 438.4M352 433.6L351.5 434.1L351.1 434.6L350.5 436L350.3 437.5L350.3 438.1L350.4 438.8L350.7 439.2L351 439.6L351.4 439.8L351.8 439.8L352.3 439.7L352.8 439.4L353.2 439L353.6 438.4M367.8 420.5L362.7 433.5L360.5 422M372.1 396.5L380.8 393.6L374.5 405.7M357.2 409.3L353.7 399.1L362.1 398.5"/>
<path class="l" stroke-width="0.5249999999999999" d="M362.1 420.7L355.5 442.1M366 420.2L366.4 440.5M369.8 416.5L377.1 430.5M372.5 410.8L384.7 414.6M373.4 404.6L387.3 397.1M372.3 399.4L384 382.8M369.4 396.8L375.9 375.4M365.5 397.4L365 377M361.6 401L354.4 387.1M358.9 406.7L346.7 403M358 412.9L344.2 420.4M359.1 418.1L347.4 434.7"/>
<path class="l" stroke-width="0.8" d="M353.6 448.4L355.1 448.8L356.6 449L358.2 449L359.9 448.9L361.5 448.6L363.2 448.1L364.8 447.4L366.5 446.6L368.2 445.6L369.9 444.5L371.5 443.2L373.1 441.7L374.7 440.1L376.3 438.4L377.8 436.6L379.2 434.6L380.6 432.5L382 430.3L383.2 428.1L384.4 425.7L385.5 423.3L386.6 420.8L387.5 418.3L388.3 415.7L389.1 413.1L389.7 410.4L390.3 407.8L390.7 405.2L391 402.6L391.3 400L391.4 397.4L391.4 394.9L391.3 392.5L391 390.1L390.7 387.8L390.3 385.6L389.8 383.5L389.1 381.5L388.4 379.6L387.5 377.8L386.6 376.2L385.6 374.7L384.5 373.4L383.3 372.2L382 371.2L380.7 370.3L379.3 369.6L377.8 369.1L376.3 368.7L374.8 368.5L373.2 368.5L371.6 368.6L369.9 369L368.3 369.4L366.6 370.1L364.9 370.9L363.2 371.9L361.6 373.1L359.9 374.4L358.3 375.8L356.7 377.4L355.2 379.1L353.6 381L352.2 382.9L350.8 385L349.5 387.2L348.2 389.5L347 391.8L345.9 394.2L344.9 396.7L343.9 399.3L343.1 401.8L342.3 404.5L341.7 407.1L341.2 409.7L340.7 412.4L340.4 415L340.2 417.6L340.1 420.1L340.1 422.6L340.2 425.1L340.4 427.4L340.7 429.7L341.1 431.9L341.7 434L342.3 436L343.1 437.9L343.9 439.7L344.8 441.3L345.8 442.8L347 444.1L348.1 445.3L349.4 446.3L350.7 447.2L352.1 447.9L353.6 448.4Z"/>
<path class="f" d="M366.6 418L366.7 418.9L366.9 419.8L367.1 420.5L367.5 421.2L367.9 421.7L368.4 422.2L369 422.5L384 428.1L384.6 428.2L385.3 428.3L386 428.1L386.7 427.9L387.4 427.5L388.1 427L388.8 426.3L389.4 425.6L390 424.8L390.6 423.8L391.1 422.9L391.5 421.8L391.9 420.8L392.2 419.7L392.3 418.7L392.4 417.6L392.4 416.6L392.3 415.7L392.1 414.9L391.9 414.1L391.5 413.4L391.1 412.9L390.6 412.5L390 412.2L375 406.5L374.4 406.4L373.7 406.4L373 406.5L372.3 406.8L371.6 407.2L370.9 407.7L370.2 408.3L369.6 409L369 409.9L368.4 410.8L367.9 411.8L367.5 412.8L367.1 413.8L366.8 414.9L366.7 416L366.6 417L366.6 418Z"/>
<path class="l" stroke-width="0.5" d="M381.3 427.1L380.7 426.8M380.7 426.8L380.2 426.4M380.2 426.4L379.8 425.8M379.8 425.8L379.4 425.2M379.4 425.2L379.2 424.4M379.2 424.4L379 423.5M379 423.5L378.9 422.6M378.9 422.6L378.9 421.6M378.9 421.6L379 420.6M379 420.6L379.2 419.5M379.2 419.5L379.4 418.5M379.4 418.5L379.8 417.4M379.8 417.4L380.2 416.4M380.2 416.4L380.7 415.4M380.7 415.4L381.3 414.5M381.3 414.5L381.9 413.7M381.9 413.7L382.5 412.9M382.5 412.9L383.2 412.3M383.2 412.3L383.9 411.8M383.9 411.8L384.6 411.4M384.6 411.4L385.3 411.1M385.3 411.1L386 411M386 411L386.7 411M386.7 411L387.3 411.2M390 412.2L390.6 412.5L390.9 412.8L391.5 413.4L391.9 414.1L392.1 414.9L392.3 415.7L392.4 416.8L392.3 418.7L392.1 420.1L391.5 421.8L391 423L390 424.8L389 426L388.1 427L387.4 427.5L386.7 427.9L386 428.1L385.1 428.3L384.6 428.2L384 428.1L383.3 427.7L382.9 427.4L382.5 426.8L382 425.9L381.7 424.6L381.6 423.2L381.7 421.6L382 420L382.5 418.4L383.3 416.6L384 415.5L385 414.2L385.9 413.3L386.9 412.6L388 412.1L389 412L390 412.2M388.4 416.4L388.9 416.7L389.1 417L389.3 417.5L389.5 418.1L389.5 419.4L389.1 420.9L388.4 422.3L387.5 423.4L387.2 423.6L386.5 423.9L386 424L385.6 423.9L385.2 423.6L384.9 423.3L384.7 423L384.5 422.2L384.5 420.8L384.9 419.3L385.6 418L386.5 416.9L387 416.6L387.5 416.4L388.1 416.3L388.4 416.4"/>
<path class="l" stroke-width="1.0" d="M366.6 418L366.7 418.9L366.9 419.8L367.1 420.5L367.5 421.2L367.9 421.7L368.4 422.2L369 422.5L384 428.1L384.6 428.2L385.3 428.3L386 428.1L386.7 427.9L387.4 427.5L388.1 427L388.8 426.3L389.4 425.6L390 424.8L390.6 423.8L391.1 422.9L391.5 421.8L391.9 420.8L392.2 419.7L392.3 418.7L392.4 417.6L392.4 416.6L392.3 415.7L392.1 414.9L391.9 414.1L391.5 413.4L391.1 412.9L390.6 412.5L390 412.2L375 406.5L374.4 406.4L373.7 406.4L373 406.5L372.3 406.8L371.6 407.2L370.9 407.7L370.2 408.3L369.6 409L369 409.9L368.4 410.8L367.9 411.8L367.5 412.8L367.1 413.8L366.8 414.9L366.7 416L366.6 417L366.6 418Z"/>
<path class="f" d="M276.3 386.8L276.8 388L277.5 389.2L278.2 390.2L279 391.1L279.9 391.8L280.9 392.4L281.9 392.9L282.9 393.2L292.2 394.6L293.2 394.6L294.3 394.4L295.4 394.1L296.5 393.6L297.5 393L298.6 392.2L299.5 391.4L300.5 390.3L301.4 389.2L302.2 388L302.9 386.7L303.6 385.3L304.2 383.8L304.6 382.3L305 380.7L305.3 379.2L305.5 377.6L305.6 376L305.5 374.5L305.4 373L305.1 371.5L304.8 370.1L304.3 368.8L303.8 367.6L303.2 366.5L302.4 365.5L301.7 364.6L300.8 363.9L299.9 363.3L298.9 362.9L289.9 360.3L288.8 360.2L287.7 360.2L286.6 360.4L285.5 360.7L284.4 361.2L283.3 361.8L282.2 362.6L281.2 363.5L280.2 364.6L279.3 365.7L278.5 367L277.7 368.4L277.1 369.8L276.5 371.3L276 372.9L275.6 374.5L275.3 376.1L275.1 377.7L275 379.3L275.1 380.9L275.2 382.5L275.5 384L275.8 385.4L276.3 386.8Z"/>
<path class="l" stroke-width="0.6" d="M297.9 362.6L298.9 362.9L299.9 363.3L300.8 363.9L301.7 364.6L302.4 365.5L303.2 366.5L303.8 367.6L304.3 368.8L304.8 370.1L305.1 371.5L305.4 373L305.5 374.5L305.6 376L305.5 377.6L305.3 379.2L305 380.7L304.6 382.3L304.2 383.8L303.6 385.3L302.9 386.7L302.2 388L301.4 389.2L300.5 390.3L299.5 391.4L298.6 392.2L297.5 393L296.5 393.6L295.4 394.1L294.3 394.4L293.2 394.6L292.2 394.6L291.1 394.4L290.1 394.1L289.1 393.7L288.2 393.1L287.3 392.4L286.6 391.5L285.8 390.5L285.2 389.4L284.7 388.2L284.2 386.9L283.9 385.5L283.6 384L283.5 382.5L283.4 381L283.5 379.4L283.7 377.8L284 376.3L284.4 374.7L284.8 373.2L285.4 371.7L286.1 370.3L286.8 369L287.6 367.8L288.5 366.7L289.5 365.6L290.4 364.8L291.5 364L292.5 363.4L293.6 362.9L294.7 362.6L295.8 362.4L296.8 362.4L297.9 362.6M296 371.4L296.9 371.8L297.7 372.4L298.3 373.2L298.9 374.2L299.2 375.4L299.4 376.7L299.4 378.1L299.2 379.5L298.8 380.9L298.2 382.1L297.5 383.2L296.7 384.2L295.8 384.9L294.9 385.4L293.9 385.6L293 385.6L292.1 385.2L291.3 384.6L290.7 383.8L290.1 382.8L289.8 381.6L289.6 380.3L289.6 378.9L289.8 377.5L290.2 376.1L290.8 374.9L291.5 373.8L292.3 372.8L293.2 372.1L294.1 371.6L295.1 371.4L296 371.4M297.3 365.4L298.1 365.6L298.9 366L299.7 366.5L300.4 367.1L301.1 367.8L301.6 368.6L302.2 369.5L302.6 370.5L303.3 372.7L303.6 375.2L303.6 377.7L303.2 380.3L302.5 382.9L301.4 385.2L300.2 387.3L298.7 389.1L297.8 389.8L297 390.5L296.1 391L295.2 391.4L294.3 391.6L293.5 391.8L292.6 391.8L291.7 391.6L290.9 391.4L290.1 391L289.3 390.5L288.6 389.9L287.9 389.2L287.4 388.4L286.8 387.5L286.4 386.5L285.7 384.3L285.4 381.8L285.4 379.3L285.8 376.7L286.5 374.1L287.6 371.8L288.8 369.7L290.3 367.9L291.2 367.2L292 366.5L292.9 366L293.8 365.6L294.7 365.4L295.5 365.2L296.4 365.2L297.3 365.4M296.7 368.1L297.4 368.3L298 368.6L299.1 369.5L300.1 370.7L300.9 372.2L301.4 374L301.7 375.9L301.6 377.9L301.3 380L300.8 381.9L300 383.8L299 385.5L297.8 386.8L296.5 387.9L295.1 388.6L293.7 388.9L293 388.9L292.3 388.9L291.6 388.7L291 388.4L289.9 387.5L288.9 386.3L288.1 384.8L287.6 383L287.3 381.1L287.4 379.1L287.7 377L288.2 375.1L289 373.2L290 371.5L291.2 370.2L292.5 369.1L293.9 368.4L295.3 368.1L296 368.1L296.7 368.1"/>
<path class="l" stroke-width="1.15" d="M276.3 386.8L276.8 388L277.5 389.2L278.2 390.2L279 391.1L279.9 391.8L280.9 392.4L281.9 392.9L282.9 393.2L292.2 394.6L293.2 394.6L294.3 394.4L295.4 394.1L296.5 393.6L297.5 393L298.6 392.2L299.5 391.4L300.5 390.3L301.4 389.2L302.2 388L302.9 386.7L303.6 385.3L304.2 383.8L304.6 382.3L305 380.7L305.3 379.2L305.5 377.6L305.6 376L305.5 374.5L305.4 373L305.1 371.5L304.8 370.1L304.3 368.8L303.8 367.6L303.2 366.5L302.4 365.5L301.7 364.6L300.8 363.9L299.9 363.3L298.9 362.9L289.9 360.3L288.8 360.2L287.7 360.2L286.6 360.4L285.5 360.7L284.4 361.2L283.3 361.8L282.2 362.6L281.2 363.5L280.2 364.6L279.3 365.7L278.5 367L277.7 368.4L277.1 369.8L276.5 371.3L276 372.9L275.6 374.5L275.3 376.1L275.1 377.7L275 379.3L275.1 380.9L275.2 382.5L275.5 384L275.8 385.4L276.3 386.8Z"/>
<path class="f" d="M400.1 441.8L400.6 443L401.3 444.2L402 445.2L402.8 446.1L403.7 446.8L404.7 447.4L405.7 447.9L406.7 448.2L416 449.6L417 449.6L418.1 449.4L419.2 449.1L420.3 448.6L421.3 448L422.4 447.2L423.3 446.4L424.3 445.3L425.2 444.2L426 443L426.7 441.7L427.4 440.3L428 438.8L428.4 437.3L428.8 435.7L429.1 434.2L429.3 432.6L429.4 431L429.3 429.5L429.2 428L428.9 426.5L428.6 425.1L428.1 423.8L427.6 422.6L427 421.5L426.2 420.5L425.5 419.6L424.6 418.9L423.7 418.3L422.7 417.9L413.7 415.3L412.6 415.2L411.5 415.2L410.4 415.4L409.3 415.7L408.2 416.2L407.1 416.8L406 417.6L405 418.5L404 419.6L403.1 420.7L402.3 422L401.5 423.4L400.9 424.8L400.3 426.3L399.8 427.9L399.4 429.5L399.1 431.1L398.9 432.7L398.8 434.3L398.9 435.9L399 437.5L399.3 439L399.6 440.4L400.1 441.8Z"/>
<path class="l" stroke-width="0.6" d="M421.7 417.6L422.7 417.9L423.7 418.3L424.6 418.9L425.5 419.6L426.2 420.5L427 421.5L427.6 422.6L428.1 423.8L428.6 425.1L428.9 426.5L429.2 428L429.3 429.5L429.4 431L429.3 432.6L429.1 434.2L428.8 435.7L428.4 437.3L428 438.8L427.4 440.3L426.7 441.7L426 443L425.2 444.2L424.3 445.3L423.3 446.4L422.4 447.2L421.3 448L420.3 448.6L419.2 449.1L418.1 449.4L417 449.6L416 449.6L414.9 449.4L413.9 449.1L412.9 448.7L412 448.1L411.1 447.4L410.4 446.5L409.6 445.5L409 444.4L408.5 443.2L408 441.9L407.7 440.5L407.4 439L407.3 437.5L407.2 436L407.3 434.4L407.5 432.8L407.8 431.3L408.2 429.7L408.6 428.2L409.2 426.7L409.9 425.3L410.6 424L411.4 422.8L412.3 421.7L413.3 420.6L414.2 419.8L415.3 419L416.3 418.4L417.4 417.9L418.5 417.6L419.6 417.4L420.6 417.4L421.7 417.6M419.8 426.4L420.7 426.8L421.5 427.4L422.1 428.2L422.7 429.2L423 430.4L423.2 431.7L423.2 433.1L423 434.5L422.6 435.9L422 437.1L421.3 438.2L420.5 439.2L419.6 439.9L418.7 440.4L417.7 440.6L416.8 440.6L415.9 440.2L415.1 439.6L414.5 438.8L413.9 437.8L413.6 436.6L413.4 435.3L413.4 433.9L413.6 432.5L414 431.1L414.6 429.9L415.3 428.8L416.1 427.8L417 427.1L417.9 426.6L418.9 426.4L419.8 426.4M421.1 420.4L421.9 420.6L422.7 421L423.5 421.5L424.2 422.1L424.9 422.8L425.4 423.6L426 424.5L426.4 425.5L427.1 427.7L427.4 430.2L427.4 432.7L427 435.3L426.3 437.9L425.2 440.2L424 442.3L422.5 444.1L421.6 444.8L420.8 445.5L419.9 446L419 446.4L418.1 446.6L417.3 446.8L416.4 446.8L415.5 446.6L414.7 446.4L413.9 446L413.1 445.5L412.4 444.9L411.7 444.2L411.2 443.4L410.6 442.5L410.2 441.5L409.5 439.3L409.2 436.8L409.2 434.3L409.6 431.7L410.3 429.1L411.4 426.8L412.6 424.7L414.1 422.9L415 422.2L415.8 421.5L416.7 421L417.6 420.6L418.5 420.4L419.3 420.2L420.2 420.2L421.1 420.4M420.5 423.1L421.2 423.3L421.8 423.6L422.9 424.5L423.9 425.7L424.7 427.2L425.2 429L425.5 430.9L425.4 432.9L425.1 435L424.6 436.9L423.8 438.8L422.8 440.5L421.6 441.8L420.3 442.9L418.9 443.6L417.5 443.9L416.8 443.9L416.1 443.9L415.4 443.7L414.8 443.4L413.7 442.5L412.7 441.3L411.9 439.8L411.4 438L411.1 436.1L411.2 434.1L411.5 432L412 430.1L412.8 428.2L413.8 426.5L415 425.2L416.3 424.1L417.7 423.4L419.1 423.1L419.8 423.1L420.5 423.1"/>
<path class="l" stroke-width="1.15" d="M400.1 441.8L400.6 443L401.3 444.2L402 445.2L402.8 446.1L403.7 446.8L404.7 447.4L405.7 447.9L406.7 448.2L416 449.6L417 449.6L418.1 449.4L419.2 449.1L420.3 448.6L421.3 448L422.4 447.2L423.3 446.4L424.3 445.3L425.2 444.2L426 443L426.7 441.7L427.4 440.3L428 438.8L428.4 437.3L428.8 435.7L429.1 434.2L429.3 432.6L429.4 431L429.3 429.5L429.2 428L428.9 426.5L428.6 425.1L428.1 423.8L427.6 422.6L427 421.5L426.2 420.5L425.5 419.6L424.6 418.9L423.7 418.3L422.7 417.9L413.7 415.3L412.6 415.2L411.5 415.2L410.4 415.4L409.3 415.7L408.2 416.2L407.1 416.8L406 417.6L405 418.5L404 419.6L403.1 420.7L402.3 422L401.5 423.4L400.9 424.8L400.3 426.3L399.8 427.9L399.4 429.5L399.1 431.1L398.9 432.7L398.8 434.3L398.9 435.9L399 437.5L399.3 439L399.6 440.4L400.1 441.8Z"/>
<path class="f" d="M400.3 464.2L400.4 464.7L400.5 465.2L400.7 465.5L401 465.8L401.4 466L415.3 472.2L415 472L414.7 471.7L414.5 471.3L414.4 470.8L414.3 470.4L414.3 469.8L414.6 468.8L415.2 467.9L415.6 467.5L416 467.2L416.4 467L416.8 466.9L417.2 466.9L417.6 467L403.6 460.9L403.2 460.8L402.8 460.8L402.4 460.9L402 461.1L401.6 461.4L401.2 461.7L400.9 462.2L400.5 463.2L400.4 463.7L400.3 464.2Z"/>
<path class="l" stroke-width="0.4" d="M402.3 466.5L402 466.2M402 466.2L401.7 466M401.7 466L401.5 465.6M401.5 465.6L401.3 465.1M401.3 465.1L401.3 464.6M401.3 464.6L401.3 464.1M401.3 464.1L401.4 463.6M401.4 463.6L401.6 463.1M401.6 463.1L401.9 462.6M401.9 462.6L402.2 462.2M402.2 462.2L402.5 461.8M402.5 461.8L402.9 461.5M402.9 461.5L403.4 461.3M403.4 461.3L403.8 461.2M403.8 461.2L404.2 461.2M404.2 461.2L404.6 461.3M403.3 466.9L402.9 466.7M402.9 466.7L402.7 466.4M402.7 466.4L402.4 466M402.4 466L402.3 465.6M402.3 465.6L402.2 465.1M402.2 465.1L402.3 464.5M402.3 464.5L402.4 464M402.4 464L402.6 463.5M402.6 463.5L402.8 463M402.8 463L403.1 462.6M403.1 462.6L403.5 462.2M403.5 462.2L403.9 461.9M403.9 461.9L404.3 461.7M404.3 461.7L404.7 461.6M404.7 461.6L405.2 461.6M405.2 461.6L405.5 461.8M404.2 467.3L403.9 467.1M403.9 467.1L403.6 466.8M403.6 466.8L403.4 466.4M403.4 466.4L403.3 466M403.3 466L403.2 465.5M403.2 465.5L403.2 465M403.2 465L403.3 464.4M403.3 464.4L403.5 463.9M403.5 463.9L403.8 463.4M403.8 463.4L404.1 463M404.1 463L404.5 462.6M404.5 462.6L404.9 462.4M404.9 462.4L405.3 462.2M405.3 462.2L405.7 462.1M405.7 462.1L406.1 462.1M406.1 462.1L406.5 462.2M405.2 467.7L404.9 467.5M404.9 467.5L404.6 467.2M404.6 467.2L404.4 466.8M404.4 466.8L404.2 466.4M404.2 466.4L404.2 465.9M404.2 465.9L404.2 465.4M404.2 465.4L404.3 464.9M404.3 464.9L404.5 464.3M404.5 464.3L404.7 463.9M404.7 463.9L405.1 463.4M405.1 463.4L405.4 463.1M405.4 463.1L405.8 462.8M405.8 462.8L406.2 462.6M406.2 462.6L406.7 462.5M406.7 462.5L407.1 462.5M407.1 462.5L407.5 462.6M406.2 468.1L405.8 467.9M405.8 467.9L405.5 467.6M405.5 467.6L405.3 467.3M405.3 467.3L405.2 466.8M405.2 466.8L405.1 466.3M405.1 466.3L405.2 465.8M405.2 465.8L405.3 465.3M405.3 465.3L405.4 464.8M405.4 464.8L405.7 464.3M405.7 464.3L406 463.9M406 463.9L406.4 463.5M406.4 463.5L406.8 463.2M406.8 463.2L407.2 463M407.2 463L407.6 462.9M407.6 462.9L408 462.9M408 462.9L408.4 463M407.1 468.6L406.8 468.4M406.8 468.4L406.5 468.1M406.5 468.1L406.3 467.7M406.3 467.7L406.2 467.2M406.2 467.2L406.1 466.8M406.1 466.8L406.1 466.2M406.1 466.2L406.2 465.7M406.2 465.7L406.4 465.2M406.4 465.2L406.7 464.7M406.7 464.7L407 464.3M407 464.3L407.3 463.9M407.3 463.9L407.7 463.6M407.7 463.6L408.2 463.4M408.2 463.4L408.6 463.3M408.6 463.3L409 463.3M409 463.3L409.4 463.4M408.1 469L407.8 468.8M407.8 468.8L407.5 468.5M407.5 468.5L407.3 468.1M407.3 468.1L407.1 467.7M407.1 467.7L407.1 467.2M407.1 467.2L407.1 466.7M407.1 466.7L407.2 466.1M407.2 466.1L407.4 465.6M407.4 465.6L407.6 465.1M407.6 465.1L407.9 464.7M407.9 464.7L408.3 464.3M408.3 464.3L408.7 464M408.7 464L409.1 463.8M409.1 463.8L409.5 463.7M409.5 463.7L410 463.8M410 463.8L410.3 463.9M409.1 469.4L408.7 469.2M408.7 469.2L408.4 468.9M408.4 468.9L408.2 468.5M408.2 468.5L408.1 468.1M408.1 468.1L408 467.6M408 467.6L408 467.1M408 467.1L408.1 466.6M408.1 466.6L408.3 466M408.3 466L408.6 465.6M408.6 465.6L408.9 465.1M408.9 465.1L409.3 464.7M409.3 464.7L409.7 464.5M409.7 464.5L410.1 464.3M410.1 464.3L410.5 464.2M410.5 464.2L410.9 464.2M410.9 464.2L411.3 464.3"/>
<path class="l" stroke-width="0.9" d="M400.3 464.2L400.4 464.7L400.5 465.2L400.7 465.5L401 465.8L401.4 466L415.3 472.2L415 472L414.7 471.7L414.5 471.3L414.4 470.8L414.3 470.4L414.3 469.8L414.6 468.8L415.2 467.9L415.6 467.5L416 467.2L416.4 467L416.8 466.9L417.2 466.9L417.6 467L403.6 460.9L403.2 460.8L402.8 460.8L402.4 460.9L402 461.1L401.6 461.4L401.2 461.7L400.9 462.2L400.5 463.2L400.4 463.7L400.3 464.2Z"/><path class="f" d="M412.1 469.1L413 474.3L415 475.2L419.4 475.7L422.9 471L422 465.8L419.9 464.9L415.5 464.4L412.1 469.1Z"/>
<path class="l" stroke-width="0.5" d="M413 474.3L415 475.2M412.1 469.1L414.1 470M415.5 464.4L417.6 465.3M419.9 464.9L422 465.8M422 465.8L422.9 471L421.3 473.2L419.4 475.7L415 475.2L414.1 470L415.7 467.8L417.6 465.3L422 465.8M421.5 466.4L421.9 467.1L422.3 467.8L422.4 468.7L422.5 469.6L422.4 470.6L422.1 471.5L421.7 472.5L421.2 473.2L420.5 474.1L419.8 474.7L419 475.1L418.3 475.4L417.5 475.5L416.7 475.3L416.1 475L415.5 474.6L415.1 473.9L414.7 473.2L414.6 472.3L414.5 471.4L414.6 470.4L414.9 469.5L415.3 468.5L415.8 467.8L416.5 466.9L417.2 466.3L418 465.9L418.7 465.6L419.5 465.5L420.3 465.7L420.9 466L421.5 466.4"/>
<path class="l" stroke-width="1.0" d="M412.1 469.1L413 474.3L415 475.2L419.4 475.7L422.9 471L422 465.8L419.9 464.9L415.5 464.4L412.1 469.1Z"/>
<path class="f" d="M277.5 456.9L277.5 457.8L279.2 459.4L278.5 460.5L279.3 461.9L282 463.4L282.7 464.3L282 465.4L283.4 466.9L284.6 466.3L285.4 467.1L286.7 469.8L288 470.8L289.2 470.2L290.7 472L291.5 472.1L305.6 466.8L305.7 466.3L305.6 466L307.2 465.4L307.3 464.5L307.3 463.6L304.1 460.6L305.6 459.8L305.7 459.4L304.4 457.2L300.5 455.1L299.4 453.7L300.4 451.9L298.3 449.6L296.4 450.5L295.1 449.3L293.3 445.2L291.2 443.7L290.8 443.8L289.9 445.2L289.8 445.2L287.1 441.8L286.2 441.7L285.4 441.8L284.6 443.4L284.3 443.2L283.8 443.2L277.5 456.9Z"/>
<path class="l" stroke-width="0.45" d="M289.7 468.5L289.2 468.8M280.8 459.2L280.6 459.5M281.1 458.9L280.8 459.3M282.5 458.7L282 459.4M294.8 449.6L284.6 461M296.2 450.7L285.4 461.7M299.1 453.9L287.3 463.8M300.2 455.3L288 464.7M290.1 467L289.4 467.4"/>
<path class="l" stroke-width="0.7" d="M305.6 466.8L291.5 472.1M289.3 470.2L288 470.8M279.2 459.3L278.5 460.5M283.8 443.2L277.5 456.9M285.4 441.8L278.5 456M286.7 441.9L279.3 456.1M290.8 443.8L282 457.3M292.9 445.2L283.3 458.2M298.1 449.8L286.6 461.2M300.2 452.1L288 462.6M304.3 457.6L290.7 466.1M305.6 459.8L291.5 467.5M307.2 464.1L292.5 470.3M307.2 465.4L292.5 471.1M289.2 468.8L291.5 472.1L290.7 472L288 468.7L287.3 468.4L288 470.8L287.3 470.3L286.7 469.8L285.4 467.1L284.6 466.3L283.4 466.9L282 465.4L282.7 464.3L282 463.4L279.3 461.9L278.5 460.5L280.8 461.4L280.6 460.7L277.5 457.8L277.5 456.9L280.6 459.5L280.8 459.3L278.5 456L279.3 456.1L282 459.4L282.7 459.7L282 457.3L283.3 458.2L284.6 461L285.4 461.7L286.6 461.2L287.3 461.9L288 462.6L287.3 463.8L288 464.7L290.7 466.1L291.5 467.5L289.2 466.7L289.4 467.4L292.5 470.3L292.5 471.1L289.4 468.5L289.2 468.8"/>
<path class="l" stroke-width="1.15" d="M277.5 456.9L277.5 457.8L279.2 459.4L278.5 460.5L279.3 461.9L282 463.4L282.7 464.3L282 465.4L283.4 466.9L284.6 466.3L285.4 467.1L286.7 469.8L288 470.8L289.2 470.2L290.7 472L291.5 472.1L305.6 466.8L305.7 466.3L305.6 466L307.2 465.4L307.3 464.5L307.3 463.6L304.1 460.6L305.6 459.8L305.7 459.4L304.4 457.2L300.5 455.1L299.4 453.7L300.4 451.9L298.3 449.6L296.4 450.5L295.1 449.3L293.3 445.2L291.2 443.7L290.8 443.8L289.9 445.2L289.8 445.2L287.1 441.8L286.2 441.7L285.4 441.8L284.6 443.4L284.3 443.2L283.8 443.2L277.5 456.9Z"/>
<path class="f" d="M221 516.7L221 517.1L221.1 517.5L221.7 518.7L222.2 519.4L223.3 520.8L224.5 522L225.8 522.9L226.3 523.2L226.8 523.3L227.2 523.3L227.4 523.2L242.7 509L242.9 508.8L242.9 508.4L242.8 507.9L242.5 507.4L242.2 506.7L241.2 505.4L240.6 504.7L239.4 503.5L238.7 503L237.6 502.3L237.1 502.2L236.7 502.1L236.5 502.3L221.2 516.5L221 516.7Z"/>
<path class="l" stroke-width="0.4" d="M229.3 521.4L229.3 521M229.3 521L229.2 520.5M229.2 520.5L228.9 520M228.9 520L228.6 519.4M228.6 519.4L228.1 518.7M228.1 518.7L227.6 518M227.6 518L227 517.3M227 517.3L226.4 516.7M226.4 516.7L225.7 516.1M225.7 516.1L225.1 515.6M225.1 515.6L224.5 515.2M224.5 515.2L224 514.9M224 514.9L223.5 514.8M223.5 514.8L223.1 514.8M231 519.8L231 519.4M231 519.4L230.9 519M230.9 519L230.6 518.4M230.6 518.4L230.3 517.8M230.3 517.8L229.8 517.1M229.8 517.1L229.3 516.4M229.3 516.4L228.7 515.7M228.7 515.7L228.1 515.1M228.1 515.1L227.4 514.5M227.4 514.5L226.8 514M226.8 514L226.2 513.6M226.2 513.6L225.7 513.4M225.7 513.4L225.2 513.2M225.2 513.2L224.8 513.2M232.7 518.2L232.7 517.9M232.7 517.9L232.6 517.4M232.6 517.4L232.3 516.8M232.3 516.8L232 516.2M232 516.2L231.5 515.5M231.5 515.5L231 514.8M231 514.8L230.4 514.2M230.4 514.2L229.8 513.5M229.8 513.5L229.1 512.9M229.1 512.9L228.5 512.4M228.5 512.4L227.9 512.1M227.9 512.1L227.4 511.8M227.4 511.8L226.9 511.6M226.9 511.6L226.5 511.6M234.4 516.7L234.4 516.3M234.4 516.3L234.3 515.8M234.3 515.8L234 515.2M234 515.2L233.7 514.6M233.7 514.6L233.2 513.9M233.2 513.9L232.7 513.3M232.7 513.3L232.1 512.6M232.1 512.6L231.5 511.9M231.5 511.9L230.8 511.4M230.8 511.4L230.2 510.9M230.2 510.9L229.6 510.5M229.6 510.5L229.1 510.2M229.1 510.2L228.6 510M228.6 510L228.2 510M236.1 515.1L236.1 514.7M236.1 514.7L236 514.2M236 514.2L235.7 513.7M235.7 513.7L235.4 513M235.4 513L234.9 512.4M234.9 512.4L234.4 511.7M234.4 511.7L233.8 511M233.8 511L233.2 510.4M233.2 510.4L232.5 509.8M232.5 509.8L231.9 509.3M231.9 509.3L231.3 508.9M231.3 508.9L230.8 508.6M230.8 508.6L230.3 508.5M230.3 508.5L229.9 508.5M237.8 513.5L237.8 513.1M237.8 513.1L237.7 512.7M237.7 512.7L237.4 512.1M237.4 512.1L237.1 511.5M237.1 511.5L236.6 510.8M236.6 510.8L236.1 510.1M236.1 510.1L235.5 509.4M235.5 509.4L234.9 508.8M234.9 508.8L234.2 508.2M234.2 508.2L233.6 507.7M233.6 507.7L233 507.3M233 507.3L232.5 507M232.5 507L232 506.9M232 506.9L231.6 506.9M239.5 511.9L239.5 511.6M239.5 511.6L239.4 511.1M239.4 511.1L239.1 510.5M239.1 510.5L238.8 509.9M238.8 509.9L238.3 509.2M238.3 509.2L237.8 508.5M237.8 508.5L237.2 507.9M237.2 507.9L236.6 507.2M236.6 507.2L235.9 506.6M235.9 506.6L235.3 506.1M235.3 506.1L234.7 505.7M234.7 505.7L234.2 505.5M234.2 505.5L233.7 505.3M233.7 505.3L233.3 505.3M241.2 510.3L241.2 510M241.2 510L241.1 509.5M241.1 509.5L240.8 508.9M240.8 508.9L240.5 508.3M240.5 508.3L240 507.6M240 507.6L239.5 507M239.5 507L238.9 506.3M238.9 506.3L238.3 505.6M238.3 505.6L237.7 505.1M237.7 505.1L237 504.6M237 504.6L236.4 504.2M236.4 504.2L235.9 503.9M235.9 503.9L235.4 503.7M235.4 503.7L235 503.7M221.2 516.5L221 516.7L221 517.1L221.4 518.1L222.2 519.4L223.3 520.8L224.5 522L225.8 522.9L226.8 523.3L227.2 523.3L227.4 523.2L227.5 523L227.6 522.6L227.2 521.6L226.4 520.3L225.3 518.9L224 517.7L222.8 516.8L221.8 516.4L221.4 516.3L221.2 516.5M222.9 518.4L222.9 518.6L223 519.1L223.8 520.2L224.9 521.2L225.4 521.3L225.6 521.3L225.7 521L225.6 520.6L224.7 519.4L223.6 518.5L223.2 518.3L222.9 518.4"/>
<path class="l" stroke-width="0.9" d="M221 516.7L221 517.1L221.1 517.5L221.7 518.7L222.2 519.4L223.3 520.8L224.5 522L225.8 522.9L226.3 523.2L226.8 523.3L227.2 523.3L227.4 523.2L242.7 509L242.9 508.8L242.9 508.4L242.8 507.9L242.5 507.4L242.2 506.7L241.2 505.4L240.6 504.7L239.4 503.5L238.7 503L237.6 502.3L237.1 502.2L236.7 502.1L236.5 502.3L221.2 516.5L221 516.7Z"/><path class="f" d="M234 498.4L234.1 499.1L234.4 499.9L235.5 501L235.2 501.3L235.2 501.7L235.2 502.2L235.5 502.9L235.9 503.7L237 505.4L238.7 507.3L240.3 508.8L241.2 509.5L242 509.9L242.7 510.3L243.2 510.4L243.7 510.3L244 510.1L244.9 511.3L245.7 511.6L246.4 511.8L247 511.7L265.1 495L265.8 494.8L268.6 492.2L268.7 492L268.8 491.4L268.7 490.7L268.3 489.5L267.7 488.2L266.7 486.7L264.9 484.3L262.8 482L260.6 480.1L259.1 479L257.9 478.3L256.7 477.8L256 477.6L255.4 477.7L255.2 477.7L252.4 480.4L252.2 481L234.1 497.8L234 498.4Z"/>
<path class="l" stroke-width="0.5" d="M235.3 498.8L235.7 498.4M234.1 497.8L252.5 480.8M247 511.7L265.4 494.7M246.1 510.5L246.4 510.2M247.6 511.1L266.1 494.1M247.4 509L265.8 492M246.2 508L264.6 490.9M246.4 507L264.8 490M244 503.6L262.4 486.6M243.1 503.4L261.5 486.4M242.1 502.3L260.5 485.3M241.9 501.4L260.3 484.4M238.7 498.7L257.2 481.7M237.8 498.9L256.2 481.9M236.8 497.6L255.2 480.6M234.8 497.2L253.2 480.2M252.3 480.6L252.2 481.1M265 495L265.6 494.9M265.8 494.8L266.2 494.5M266.3 494.3L266.4 493.7M266.4 493.7L266.3 493M266.3 493L266 492.1M266 492.1L265.9 491.7M265.9 491.7L265.2 490.5M265.2 490.5L265 490.1M265 490.1L264.3 488.9M264.3 488.9L263.4 487.8M263.4 487.8L262.5 486.6M262.5 486.6L262.1 486.1M262.1 486.1L260.8 484.7M260.8 484.7L260.4 484.3M260.4 484.3L259.3 483.3M259.3 483.3L258.2 482.3M258.2 482.3L257.1 481.5M257.1 481.5L256.7 481.2M256.7 481.2L255.5 480.5M255.5 480.5L255.1 480.4M255.1 480.4L254.3 480M254.3 480L253.6 479.9M253.6 479.9L253 479.9M252.8 480L252.4 480.4M235.3 501.2L235.2 501.7L235.2 502.2L235.5 502.9L235.9 503.7L237 505.4L238.7 507.3L240.3 508.8L242 509.9L242.7 510.3L243.2 510.4L243.7 510.3L243.9 510L244 509.6L244 509.1L243.7 508.3L243.4 507.6L242.2 505.8L240.6 504L238.9 502.4L237.2 501.3L236.5 501L236 500.9L235.5 501L235.3 501.2"/>
<path class="l" stroke-width="1.0" d="M234 498.4L234.1 499.1L234.4 499.9L235.5 501L235.2 501.3L235.2 501.7L235.2 502.2L235.5 502.9L235.9 503.7L237 505.4L238.7 507.3L240.3 508.8L241.2 509.5L242 509.9L242.7 510.3L243.2 510.4L243.7 510.3L244 510.1L244.9 511.3L245.7 511.6L246.4 511.8L247 511.7L265.1 495L265.8 494.8L268.6 492.2L268.7 492L268.8 491.4L268.7 490.7L268.3 489.5L267.7 488.2L266.7 486.7L264.9 484.3L262.8 482L260.6 480.1L259.1 479L257.9 478.3L256.7 477.8L256 477.6L255.4 477.7L255.2 477.7L252.4 480.4L252.2 481L234.1 497.8L234 498.4Z"/><path class="f" d="M254.9 477.7L255.4 477.5L256.2 477.5L257.3 477.9L258.5 478.5L259.8 479.3L261.2 480.4L262.6 481.7L264 483.1L265.3 484.6L266.4 486.1L267.4 487.6L268.2 488.9L268.7 490.2L268.9 491.2L268.9 492L268.6 492.6L269.8 491.7L290.4 473.1L290.7 472.5L290.7 471.7L290.4 470.6L289.9 469.3L289.1 467.8L288.1 466.3L286.8 464.7L285.5 463.2L284 461.7L282.6 460.4L281.1 459.2L279.7 458.3L278.5 457.7L277.4 457.3L276.5 457.3L275.9 457.5L255.8 476.6L254.9 477.7Z"/>
<path class="l" stroke-width="0.5" d="M269.8 491.7L270.1 491.2M270.1 491.2L270.1 490.4M270.1 490.4L269.9 489.3M269.9 489.3L269.3 488M269.3 488L268.6 486.6M268.6 486.6L267.6 485.1M267.6 485.1L266.4 483.6M266.4 483.6L265 482.1M265 482.1L263.6 480.7M263.6 480.7L262.2 479.4M262.2 479.4L260.8 478.2M260.8 478.2L259.4 477.4M259.4 477.4L258.2 476.7M258.2 476.7L257.2 476.4M257.2 476.4L256.4 476.4M256.4 476.4L255.8 476.6"/>
<path class="l" stroke-width="1.0" d="M254.9 477.7L255.4 477.5L256.2 477.5L257.3 477.9L258.5 478.5L259.8 479.3L261.2 480.4L262.6 481.7L264 483.1L265.3 484.6L266.4 486.1L267.4 487.6L268.2 488.9L268.7 490.2L268.9 491.2L268.9 492L268.6 492.6L269.8 491.7L290.4 473.1L290.7 472.5L290.7 471.7L290.4 470.6L289.9 469.3L289.1 467.8L288.1 466.3L286.8 464.7L285.5 463.2L284 461.7L282.6 460.4L281.1 459.2L279.7 458.3L278.5 457.7L277.4 457.3L276.5 457.3L275.9 457.5L255.8 476.6L254.9 477.7Z"/>
<g class="g">
<path d="M102 547C103 543.5 104.2 540 106 537C107.8 533.5 109.8 530.5 112 528C114.5 525.8 117 524 120 522.5C124 520.5 128 518.7 132 517.5C136 516.7 140.5 516.5 145 516.8C150 517.2 155 518.3 160 520C167 522 174 525 180.6 528.5C185 531 189 534.5 193 538.5C197 543 200.5 547.5 203.4 552.5C206 557 208.5 562 211 568"/>
<path d="M133 520.3C137 519.8 141 519.7 145 520C150 520.5 155 522 160 523.6C166 525.5 171.5 528 176.5 531C180 533.2 182.5 535.5 184.8 538.5"/>
<path d="M115 525C119 523 124 521.5 129 520.5"/>
<path d="M132 517.2L138.5 511.5L145 515L145 517"/>
<path d="M133.5 520.5L133.5 543.5M129 521.5L116.5 552M130 520.5L126 536.5"/>
<path d="M133 544L123 554M131.5 543L121.5 553M134 544L160 555.5M134 546.5L159 557.5"/>
<path d="M102 547L110 540.5L119 543L115 552L104 549ZM103 549.5L114.5 553.5M103.5 551L113 554.5"/>
<path d="M172.4 554.6L184.8 541.2M162 563L165 566"/>
<ellipse cx="117.5" cy="534" rx="3.6" ry="4.6" transform="rotate(-35 117.5 534)"/>
<ellipse cx="117.5" cy="534" rx="2" ry="2.7" transform="rotate(-35 117.5 534)"/>
<ellipse cx="145" cy="527" rx="3.6" ry="4.6" transform="rotate(-40 145 527)"/>
<ellipse cx="145" cy="527" rx="2" ry="2.7" transform="rotate(-40 145 527)"/>
<ellipse cx="170.7" cy="537.6" rx="3.6" ry="4.6" transform="rotate(-50 170.7 537.6)"/>
<ellipse cx="170.7" cy="537.6" rx="2" ry="2.7" transform="rotate(-50 170.7 537.6)"/>
</g>
<path class="f" d="M191.9 533.4L192 534.7L192.1 536.1L192.3 537.5L192.7 538.9L193.2 540.3L193.9 541.8L194.6 543.2L195.5 544.6L196.4 546L197.4 547.3L198.5 548.5L199.7 549.7L201 550.7L202.2 551.7L203.5 552.6L204.9 553.3L206.2 554L207.5 554.5L208.8 554.8L210.1 555.1L212 555.2L213.2 555.2L214.3 554.9L215.4 554.6L216.4 554.1L217.2 553.5L224.6 547.4L225.3 546.6L226 545.7L226.5 544.7L226.9 543.7L227.2 542.5L227.3 541.2L227.3 539.9L227.1 538.5L226.9 537.1L226.5 535.6L225.9 534.1L225.3 532.6L224.5 531.2L223.7 529.7L222.7 528.3L221.6 527L220.5 525.7L219.3 524.5L218 523.4L216.7 522.4L215.3 521.5L214 520.7L212.6 520L211.2 519.5L209.9 519.2L208.6 518.9L207.3 518.8L206.1 518.9L205 519.1L203.9 519.4L202.9 519.9L202.1 520.5L194.7 526.7L194 527.4L193.3 528.3L192.8 529.3L192.4 530.4L192.1 531.6L191.9 533.4Z"/>
<path class="l" stroke-width="0.5" d="M194.6 527.5L193.9 528.2L193.2 529.1L192.7 530L192.3 531.1L192.1 532.2L191.9 533.4L192 534.7L192.1 536.1L192.3 537.5L192.7 538.9L193.2 540.3L193.9 541.8L194.6 543.2L195.5 544.6L196.4 546L197.4 547.3L198.5 548.5L199.7 549.7L201 550.7L202.2 551.7L203.5 552.6L204.9 553.3L206.2 554L207.5 554.5L208.8 554.8L210.1 555.1L211.3 555.2L212.5 555.1L213.6 554.9L214.6 554.6L215.6 554.1L216.4 553.5L217.1 552.8L217.8 551.9L218.3 551L218.7 549.9L218.9 548.8L219.1 547.6L219 546.3L218.9 544.9L218.7 543.5L218.3 542.1L217.8 540.7L217.1 539.2L216.4 537.8L215.5 536.4L214.6 535L213.6 533.7L212.5 532.5L211.3 531.3L210 530.3L208.8 529.3L207.5 528.4L206.1 527.7L204.8 527L203.5 526.5L202.2 526.2L200.9 525.9L199.7 525.8L198.5 525.9L197.4 526.1L196.4 526.4L195.4 526.9L194.6 527.5M199.2 533L198.4 533.9L197.9 535.1L197.7 536.4L197.8 538L198.1 539.6L198.8 541.2L199.7 542.9L200.8 544.4L202.2 545.8L203.6 547L205.1 547.9L206.7 548.6L208.2 548.9L209.5 548.9L210.8 548.6L211.8 548L212.6 547.1L213.1 545.9L213.3 544.6L213.2 543L212.9 541.4L212.2 539.8L211.3 538.1L210.2 536.6L208.8 535.2L207.4 534L205.9 533.1L204.3 532.4L202.8 532.1L201.5 532.1L200.2 532.4L199.2 533M197.9 531.4L197.3 531.9L196.9 532.5L196.5 533.2L196.3 533.9L196 535.6L196.1 537.4L196.6 539.4L197.4 541.4L198.5 543.4L199.8 545.2L201.4 546.9L203.2 548.4L205.1 549.5L206.9 550.3L208.7 550.7L210.4 550.7L211.2 550.6L211.9 550.4L212.6 550L213.1 549.6L213.7 549.1L214.1 548.5L214.5 547.8L214.7 547.1L215 545.4L214.9 543.6L214.4 541.6L213.6 539.6L212.5 537.6L211.2 535.8L209.6 534.1L207.8 532.6L205.9 531.5L204.1 530.7L202.3 530.3L200.6 530.3L199.8 530.4L199.1 530.6L198.4 531L197.9 531.4"/>
<path class="l" stroke-width="1.0" d="M191.9 533.4L192 534.7L192.1 536.1L192.3 537.5L192.7 538.9L193.2 540.3L193.9 541.8L194.6 543.2L195.5 544.6L196.4 546L197.4 547.3L198.5 548.5L199.7 549.7L201 550.7L202.2 551.7L203.5 552.6L204.9 553.3L206.2 554L207.5 554.5L208.8 554.8L210.1 555.1L212 555.2L213.2 555.2L214.3 554.9L215.4 554.6L216.4 554.1L217.2 553.5L224.6 547.4L225.3 546.6L226 545.7L226.5 544.7L226.9 543.7L227.2 542.5L227.3 541.2L227.3 539.9L227.1 538.5L226.9 537.1L226.5 535.6L225.9 534.1L225.3 532.6L224.5 531.2L223.7 529.7L222.7 528.3L221.6 527L220.5 525.7L219.3 524.5L218 523.4L216.7 522.4L215.3 521.5L214 520.7L212.6 520L211.2 519.5L209.9 519.2L208.6 518.9L207.3 518.8L206.1 518.9L205 519.1L203.9 519.4L202.9 519.9L202.1 520.5L194.7 526.7L194 527.4L193.3 528.3L192.8 529.3L192.4 530.4L192.1 531.6L191.9 533.4Z"/>
<path d="M186.8 530.5C190 526.5 195 524.2 200 524.4C208 525 215 530.5 218.2 538C221.2 546 219.3 553.5 213.5 559.5L211.8 558C216.5 553 218.2 546.5 215.6 539.5C212.8 532.5 207 528.3 200 527.8C195.5 527.6 191.3 529.2 188.5 532.3Z" fill="#fff" stroke="#222" stroke-width="0.9" stroke-linejoin="round"/>
<path class="l" stroke-width="0.5" d="M187.8 531.3C190.8 528 195.3 526 200 526.1C207.5 526.6 213.8 531.5 216.9 538.8C219.7 546.2 217.8 552.8 212.6 558.7"/>
<path d="M345.8 543.9C349 541 353 538.5 356.7 536.8L365.9 533C369 531 370.5 528.5 372.9 527.1L383.8 522.2L394.6 535.8L391.3 537.4C388 539 386 540 384.3 541.7C381 545 380 546.5 378.3 547.7L366.4 552C362 554 359 557 355.6 559L348 558C347 557.5 346.5 556.5 346.9 556.3L343.1 551.5C343.5 549 344.5 546 345.8 543.9Z" fill="#fff" stroke="#222" stroke-width="0.9" stroke-linejoin="round"/>
<path class="l" stroke-width="0.6" d="M349.1 542.8C354 544 357 550 357.8 556.3"/>
<path d="M383.8 522.2L394.6 535.8L393 537L382.4 523.5Z" fill="#888" stroke="#222" stroke-width="0.6"/>
<path d="M343.1 551.5L346.9 556.3L344.3 558.5L340.5 554Z" fill="#999" stroke="#222" stroke-width="0.6"/>
<ellipse cx="340.8" cy="556.6" rx="2.2" ry="2.6" transform="rotate(-40 340.8 556.6)" fill="#fff" stroke="#222" stroke-width="0.8"/>
<ellipse cx="340.8" cy="556.6" rx="1" ry="1.3" transform="rotate(-40 340.8 556.6)" fill="none" stroke="#222" stroke-width="0.5"/>
<text class="lb" x="185.25" y="85.8">2</text>
<path class="ld" d="M184.5 87 L184.5 95.5"/>
<text class="lb" x="225.3" y="120.4">9</text>
<path class="ld" d="M224.8 121 L224.8 145.8"/>
<circle class="dt" cx="224.8" cy="145.8" r="1.7"/>
<text class="lb" x="144" y="213.4">3</text>
<path class="ld" d="M147 209.5 L171.4 209.5"/>
<circle class="dt" cx="171.4" cy="209.5" r="1.7"/>
<text class="lb" x="395.9" y="87.3">14</text>
<path class="ld" d="M394.9 88 L394.9 107.7"/>
<circle class="dt" cx="394.9" cy="107.7" r="1.7"/>
<text class="lb" x="328.9" y="161.6">11</text>
<path class="ld" d="M334.5 157.1 L353.1 157.1"/>
<circle class="dt" cx="353.1" cy="157.1" r="1.7"/>
<text class="lb" x="448.1" y="190.4">13</text>
<path class="ld" d="M447.2 191 L447.2 210"/>
<circle class="dt" cx="447.2" cy="210" r="1.7"/>
<text class="lb" x="377.05" y="324.9">12</text>
<path class="ld" d="M376 305 L376 315.7"/>
<text class="lb" x="292.1" y="336.4">6</text>
<path class="ld" d="M291.4 337.6 L291.4 357.9"/>
<circle class="dt" cx="291.4" cy="357.9" r="1.7"/>
<text class="lb" x="327.75" y="355.5">1</text>
<path class="ld" d="M327.8 356 L327.8 378.3"/>
<circle class="dt" cx="327.8" cy="378.3" r="1.7"/>
<text class="lb" x="415.6" y="391.6">6</text>
<path class="ld" d="M415 392 L415 412.9"/>
<circle class="dt" cx="415" cy="412.9" r="1.7"/>
<text class="lb" x="415.3" y="506.6">5</text>
<path class="ld" d="M415 498 L415 477.7"/>
<circle class="dt" cx="415" cy="477.7" r="1.7"/>
<text class="lb" x="318.8" y="492.2">4</text>
<path class="ld" d="M315.75 484.9 L301.35 470.6"/>
<circle class="dt" cx="301.35" cy="470.6" r="1.7"/>
<text class="lb" x="366.7" y="510.3">1<tspan style="font-family:'Liberation Sans',sans-serif;font-size:10.5px">0</tspan></text>
<path class="ld" d="M365.6 511.1 L365.6 532.3"/>
<circle class="dt" cx="365.6" cy="532.3" r="1.7"/>
<text class="lb" x="183.5" y="506.6">7</text>
<path class="ld" d="M185.3 505 L199.3 519"/>
<circle class="dt" cx="199.3" cy="519" r="1.7"/>
<text class="lb" x="169.7" y="516.3">8</text>
<path class="ld" d="M172.7 513.7 L187 527.7"/>
<circle class="dt" cx="187" cy="527.7" r="1.7"/>
<path class="ld" d="M320.6 484.5 L342.5 462.5"/>
<circle class="dt" cx="342.5" cy="462.5" r="1.7"/>
<text class="tx" x="452" y="535.5">B02.010</text>
<text class="tx" x="452" y="547.7">39-2013</text>
<text class="tx" x="451.2" y="560">L8</text>
<text class="tx" x="451" y="572.2">LE0079D</text>
<text class="tx" x="313" y="582">© Copyright, 2016. Jaguar Land Rover Limited.</text>
</svg>
</body></html>
